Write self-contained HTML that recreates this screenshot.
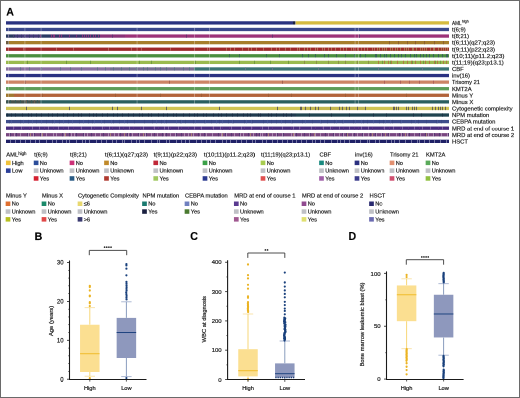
<!DOCTYPE html>
<html><head><meta charset="utf-8"><style>
html,body{margin:0;padding:0;background:#fff;}
body{width:520px;height:398px;overflow:hidden;font-family:"Liberation Sans",sans-serif;}
svg{display:block;transform:scale(0.5);transform-origin:0 0;will-change:transform;}
</style></head><body>
<svg width="1040" height="796" viewBox="0 0 520 398">
<style>text{stroke:#222;stroke-width:0.2px;}</style>
<defs><filter id="soft" x="0" y="0" width="520" height="398" filterUnits="userSpaceOnUse"><feGaussianBlur stdDeviation="0"/></filter></defs>
<g>
<rect x="0" y="0" width="520" height="398" fill="#fff"/>
<text x="6.2" y="15.6" font-size="10.6" font-weight="bold" font-family="Liberation Sans, sans-serif" fill="#000">A</text>
<rect x="6" y="21.25" width="287.00" height="3.3" fill="#2a3380"/>
<rect x="293" y="21.25" width="2.00" height="3.3" fill="#1c2240"/>
<rect x="295" y="21.25" width="1.00" height="3.3" fill="#a09a80"/>
<rect x="296" y="21.25" width="153.00" height="3.3" fill="#d5bb40"/>
<rect x="6" y="27.83" width="443.00" height="3.3" fill="#3b498c"/>
<rect x="8.0" y="27.83" width="1" height="3.3" fill="#fff" fill-opacity="0.3"/>
<rect x="24.4" y="27.83" width="1" height="3.3" fill="#fff" fill-opacity="0.3"/>
<rect x="40.6" y="27.83" width="1" height="3.3" fill="#fff" fill-opacity="0.3"/>
<rect x="136.6" y="27.83" width="1" height="3.3" fill="#fff" fill-opacity="0.3"/>
<rect x="194" y="27.83" width="1" height="3.3" fill="#fff" fill-opacity="0.3"/>
<rect x="209" y="27.83" width="1" height="3.3" fill="#fff" fill-opacity="0.3"/>
<rect x="354.6" y="27.83" width="1" height="3.3" fill="#fff" fill-opacity="0.3"/>
<rect x="358" y="27.83" width="1" height="3.3" fill="#fff" fill-opacity="0.3"/>
<rect x="6" y="34.41" width="9.00" height="3.3" fill="#2a3a60"/>
<rect x="8" y="34.41" width="1" height="3.3" fill="#473e73"/>
<rect x="13" y="34.41" width="1" height="3.3" fill="#473e73"/>
<rect x="15" y="34.41" width="25.00" height="3.3" fill="#45387a"/>
<rect x="17" y="34.41" width="1" height="3.3" fill="#35396a"/>
<rect x="21" y="34.41" width="1" height="3.3" fill="#35396a"/>
<rect x="24" y="34.41" width="1" height="3.3" fill="#35396a"/>
<rect x="29" y="34.41" width="1" height="3.3" fill="#35396a"/>
<rect x="33" y="34.41" width="1" height="3.3" fill="#35396a"/>
<rect x="38" y="34.41" width="1" height="3.3" fill="#35396a"/>
<rect x="40" y="34.41" width="10.00" height="3.3" fill="#2a3a64"/>
<rect x="40" y="34.41" width="1" height="3.3" fill="#713475"/>
<rect x="50" y="34.41" width="12.00" height="3.3" fill="#363468"/>
<rect x="51" y="34.41" width="1" height="3.3" fill="#86337a"/>
<rect x="53" y="34.41" width="1" height="3.3" fill="#86337a"/>
<rect x="54" y="34.41" width="1" height="3.3" fill="#86337a"/>
<rect x="59" y="34.41" width="1" height="3.3" fill="#86337a"/>
<rect x="61" y="34.41" width="1" height="3.3" fill="#86337a"/>
<rect x="62" y="34.41" width="20.00" height="3.3" fill="#36346a"/>
<rect x="69" y="34.41" width="1" height="3.3" fill="#7a3378"/>
<rect x="76" y="34.41" width="1" height="3.3" fill="#7a3378"/>
<rect x="82" y="34.41" width="18.00" height="3.3" fill="#363468"/>
<rect x="82" y="34.41" width="1" height="3.3" fill="#86337a"/>
<rect x="84" y="34.41" width="1" height="3.3" fill="#86337a"/>
<rect x="86" y="34.41" width="1" height="3.3" fill="#86337a"/>
<rect x="88" y="34.41" width="1" height="3.3" fill="#86337a"/>
<rect x="90" y="34.41" width="1" height="3.3" fill="#86337a"/>
<rect x="93" y="34.41" width="1" height="3.3" fill="#86337a"/>
<rect x="95" y="34.41" width="1" height="3.3" fill="#86337a"/>
<rect x="98" y="34.41" width="1" height="3.3" fill="#86337a"/>
<rect x="100" y="34.41" width="25.00" height="3.3" fill="#8a3278"/>
<rect x="112" y="34.41" width="1" height="3.3" fill="#603370"/>
<rect x="125" y="34.41" width="324.00" height="3.3" fill="#9c3279"/>
<rect x="186" y="34.41" width="1" height="3.3" fill="#693370"/>
<rect x="272" y="34.41" width="1" height="3.3" fill="#693370"/>
<rect x="359" y="34.41" width="1" height="3.3" fill="#693370"/>
<rect x="8.0" y="34.41" width="1" height="3.3" fill="#fff" fill-opacity="0.3"/>
<rect x="24.4" y="34.41" width="1" height="3.3" fill="#fff" fill-opacity="0.3"/>
<rect x="40.6" y="34.41" width="1" height="3.3" fill="#fff" fill-opacity="0.3"/>
<rect x="136.6" y="34.41" width="1" height="3.3" fill="#fff" fill-opacity="0.3"/>
<rect x="194" y="34.41" width="1" height="3.3" fill="#fff" fill-opacity="0.3"/>
<rect x="209" y="34.41" width="1" height="3.3" fill="#fff" fill-opacity="0.3"/>
<rect x="354.6" y="34.41" width="1" height="3.3" fill="#fff" fill-opacity="0.3"/>
<rect x="358" y="34.41" width="1" height="3.3" fill="#fff" fill-opacity="0.3"/>
<rect x="6" y="40.99" width="3.00" height="3.3" fill="#6a5a40"/>
<rect x="9" y="40.99" width="367.00" height="3.3" fill="#a67e2c"/>
<rect x="376" y="40.99" width="73.00" height="3.3" fill="#a67e2c"/>
<rect x="389" y="40.99" width="1" height="3.3" fill="#8c5f2e"/>
<rect x="398" y="40.99" width="1" height="3.3" fill="#8c5f2e"/>
<rect x="407" y="40.99" width="1" height="3.3" fill="#8c5f2e"/>
<rect x="415" y="40.99" width="1" height="3.3" fill="#8c5f2e"/>
<rect x="424" y="40.99" width="1" height="3.3" fill="#8c5f2e"/>
<rect x="434" y="40.99" width="1" height="3.3" fill="#8c5f2e"/>
<rect x="443" y="40.99" width="1" height="3.3" fill="#8c5f2e"/>
<rect x="8.0" y="40.99" width="1" height="3.3" fill="#fff" fill-opacity="0.3"/>
<rect x="24.4" y="40.99" width="1" height="3.3" fill="#fff" fill-opacity="0.3"/>
<rect x="40.6" y="40.99" width="1" height="3.3" fill="#fff" fill-opacity="0.3"/>
<rect x="136.6" y="40.99" width="1" height="3.3" fill="#fff" fill-opacity="0.3"/>
<rect x="194" y="40.99" width="1" height="3.3" fill="#fff" fill-opacity="0.3"/>
<rect x="209" y="40.99" width="1" height="3.3" fill="#fff" fill-opacity="0.3"/>
<rect x="354.6" y="40.99" width="1" height="3.3" fill="#fff" fill-opacity="0.3"/>
<rect x="358" y="40.99" width="1" height="3.3" fill="#fff" fill-opacity="0.3"/>
<rect x="6" y="47.57" width="216.00" height="3.3" fill="#9e282a"/>
<rect x="23" y="47.57" width="1" height="3.3" fill="#b5635e"/>
<rect x="56" y="47.57" width="1" height="3.3" fill="#b5635e"/>
<rect x="73" y="47.57" width="1" height="3.3" fill="#b5635e"/>
<rect x="108" y="47.57" width="1" height="3.3" fill="#b5635e"/>
<rect x="131" y="47.57" width="1" height="3.3" fill="#b5635e"/>
<rect x="141" y="47.57" width="1" height="3.3" fill="#b5635e"/>
<rect x="170" y="47.57" width="1" height="3.3" fill="#b5635e"/>
<rect x="207" y="47.57" width="1" height="3.3" fill="#b5635e"/>
<rect x="222" y="47.57" width="74.00" height="3.3" fill="#9e282a"/>
<rect x="226" y="47.57" width="1" height="3.3" fill="#b56859"/>
<rect x="230" y="47.57" width="1" height="3.3" fill="#b56859"/>
<rect x="234" y="47.57" width="1" height="3.3" fill="#b56859"/>
<rect x="242" y="47.57" width="1" height="3.3" fill="#b56859"/>
<rect x="248" y="47.57" width="1" height="3.3" fill="#b56859"/>
<rect x="251" y="47.57" width="1" height="3.3" fill="#b56859"/>
<rect x="256" y="47.57" width="1" height="3.3" fill="#b56859"/>
<rect x="263" y="47.57" width="1" height="3.3" fill="#b56859"/>
<rect x="271" y="47.57" width="1" height="3.3" fill="#b56859"/>
<rect x="276" y="47.57" width="1" height="3.3" fill="#b56859"/>
<rect x="279" y="47.57" width="1" height="3.3" fill="#b56859"/>
<rect x="285" y="47.57" width="1" height="3.3" fill="#b56859"/>
<rect x="290" y="47.57" width="1" height="3.3" fill="#b56859"/>
<rect x="296" y="47.57" width="80.00" height="3.3" fill="#9e282a"/>
<rect x="297" y="47.57" width="1" height="3.3" fill="#b17058"/>
<rect x="299" y="47.57" width="1" height="3.3" fill="#b17058"/>
<rect x="304" y="47.57" width="1" height="3.3" fill="#b17058"/>
<rect x="307" y="47.57" width="1" height="3.3" fill="#b17058"/>
<rect x="310" y="47.57" width="1" height="3.3" fill="#b17058"/>
<rect x="315" y="47.57" width="1" height="3.3" fill="#b17058"/>
<rect x="317" y="47.57" width="1" height="3.3" fill="#b17058"/>
<rect x="322" y="47.57" width="1" height="3.3" fill="#b17058"/>
<rect x="324" y="47.57" width="1" height="3.3" fill="#b17058"/>
<rect x="328" y="47.57" width="1" height="3.3" fill="#b17058"/>
<rect x="331" y="47.57" width="1" height="3.3" fill="#b17058"/>
<rect x="335" y="47.57" width="1" height="3.3" fill="#b17058"/>
<rect x="340" y="47.57" width="1" height="3.3" fill="#b17058"/>
<rect x="343" y="47.57" width="1" height="3.3" fill="#b17058"/>
<rect x="346" y="47.57" width="1" height="3.3" fill="#b17058"/>
<rect x="351" y="47.57" width="1" height="3.3" fill="#b17058"/>
<rect x="353" y="47.57" width="1" height="3.3" fill="#b17058"/>
<rect x="357" y="47.57" width="1" height="3.3" fill="#b17058"/>
<rect x="361" y="47.57" width="1" height="3.3" fill="#b17058"/>
<rect x="364" y="47.57" width="1" height="3.3" fill="#b17058"/>
<rect x="367" y="47.57" width="1" height="3.3" fill="#b17058"/>
<rect x="372" y="47.57" width="1" height="3.3" fill="#b17058"/>
<rect x="374" y="47.57" width="1" height="3.3" fill="#b17058"/>
<rect x="376" y="47.57" width="73.00" height="3.3" fill="#9e2e2a"/>
<rect x="377" y="47.57" width="1" height="3.3" fill="#ab7b51"/>
<rect x="379" y="47.57" width="1" height="3.3" fill="#ab7b51"/>
<rect x="382" y="47.57" width="1" height="3.3" fill="#ab7b51"/>
<rect x="384" y="47.57" width="1" height="3.3" fill="#ab7b51"/>
<rect x="386" y="47.57" width="1" height="3.3" fill="#ab7b51"/>
<rect x="390" y="47.57" width="1" height="3.3" fill="#ab7b51"/>
<rect x="392" y="47.57" width="1" height="3.3" fill="#ab7b51"/>
<rect x="395" y="47.57" width="1" height="3.3" fill="#ab7b51"/>
<rect x="397" y="47.57" width="1" height="3.3" fill="#ab7b51"/>
<rect x="400" y="47.57" width="1" height="3.3" fill="#ab7b51"/>
<rect x="404" y="47.57" width="1" height="3.3" fill="#ab7b51"/>
<rect x="406" y="47.57" width="1" height="3.3" fill="#ab7b51"/>
<rect x="408" y="47.57" width="1" height="3.3" fill="#ab7b51"/>
<rect x="412" y="47.57" width="1" height="3.3" fill="#ab7b51"/>
<rect x="413" y="47.57" width="1" height="3.3" fill="#ab7b51"/>
<rect x="416" y="47.57" width="1" height="3.3" fill="#ab7b51"/>
<rect x="420" y="47.57" width="1" height="3.3" fill="#ab7b51"/>
<rect x="422" y="47.57" width="1" height="3.3" fill="#ab7b51"/>
<rect x="424" y="47.57" width="1" height="3.3" fill="#ab7b51"/>
<rect x="426" y="47.57" width="1" height="3.3" fill="#ab7b51"/>
<rect x="430" y="47.57" width="1" height="3.3" fill="#ab7b51"/>
<rect x="433" y="47.57" width="1" height="3.3" fill="#ab7b51"/>
<rect x="434" y="47.57" width="1" height="3.3" fill="#ab7b51"/>
<rect x="438" y="47.57" width="1" height="3.3" fill="#ab7b51"/>
<rect x="441" y="47.57" width="1" height="3.3" fill="#ab7b51"/>
<rect x="443" y="47.57" width="1" height="3.3" fill="#ab7b51"/>
<rect x="445" y="47.57" width="1" height="3.3" fill="#ab7b51"/>
<rect x="447" y="47.57" width="1" height="3.3" fill="#ab7b51"/>
<rect x="8.0" y="47.57" width="1" height="3.3" fill="#fff" fill-opacity="0.3"/>
<rect x="24.4" y="47.57" width="1" height="3.3" fill="#fff" fill-opacity="0.3"/>
<rect x="40.6" y="47.57" width="1" height="3.3" fill="#fff" fill-opacity="0.3"/>
<rect x="136.6" y="47.57" width="1" height="3.3" fill="#fff" fill-opacity="0.3"/>
<rect x="194" y="47.57" width="1" height="3.3" fill="#fff" fill-opacity="0.3"/>
<rect x="209" y="47.57" width="1" height="3.3" fill="#fff" fill-opacity="0.3"/>
<rect x="354.6" y="47.57" width="1" height="3.3" fill="#fff" fill-opacity="0.3"/>
<rect x="358" y="47.57" width="1" height="3.3" fill="#fff" fill-opacity="0.3"/>
<rect x="6" y="54.15" width="216.00" height="3.3" fill="#4a8e3e"/>
<rect x="222" y="54.15" width="74.00" height="3.3" fill="#4a8e3e"/>
<rect x="229" y="54.15" width="1" height="3.3" fill="#3a6c4f"/>
<rect x="239" y="54.15" width="1" height="3.3" fill="#3a6c4f"/>
<rect x="266" y="54.15" width="1" height="3.3" fill="#3a6c4f"/>
<rect x="279" y="54.15" width="1" height="3.3" fill="#3a6c4f"/>
<rect x="296" y="54.15" width="80.00" height="3.3" fill="#4a8e3e"/>
<rect x="302" y="54.15" width="1" height="3.3" fill="#3a6457"/>
<rect x="308" y="54.15" width="1" height="3.3" fill="#3a6457"/>
<rect x="315" y="54.15" width="1" height="3.3" fill="#3a6457"/>
<rect x="324" y="54.15" width="1" height="3.3" fill="#3a6457"/>
<rect x="328" y="54.15" width="1" height="3.3" fill="#3a6457"/>
<rect x="336" y="54.15" width="1" height="3.3" fill="#3a6457"/>
<rect x="345" y="54.15" width="1" height="3.3" fill="#3a6457"/>
<rect x="354" y="54.15" width="1" height="3.3" fill="#3a6457"/>
<rect x="360" y="54.15" width="1" height="3.3" fill="#3a6457"/>
<rect x="365" y="54.15" width="1" height="3.3" fill="#3a6457"/>
<rect x="375" y="54.15" width="1" height="3.3" fill="#3a6457"/>
<rect x="376" y="54.15" width="73.00" height="3.3" fill="#4a8e3e"/>
<rect x="376" y="54.15" width="1" height="3.3" fill="#38605a"/>
<rect x="380" y="54.15" width="1" height="3.3" fill="#38605a"/>
<rect x="384" y="54.15" width="1" height="3.3" fill="#38605a"/>
<rect x="386" y="54.15" width="1" height="3.3" fill="#38605a"/>
<rect x="390" y="54.15" width="1" height="3.3" fill="#38605a"/>
<rect x="394" y="54.15" width="1" height="3.3" fill="#38605a"/>
<rect x="398" y="54.15" width="1" height="3.3" fill="#38605a"/>
<rect x="401" y="54.15" width="1" height="3.3" fill="#38605a"/>
<rect x="405" y="54.15" width="1" height="3.3" fill="#38605a"/>
<rect x="410" y="54.15" width="1" height="3.3" fill="#38605a"/>
<rect x="414" y="54.15" width="1" height="3.3" fill="#38605a"/>
<rect x="416" y="54.15" width="1" height="3.3" fill="#38605a"/>
<rect x="420" y="54.15" width="1" height="3.3" fill="#38605a"/>
<rect x="423" y="54.15" width="1" height="3.3" fill="#38605a"/>
<rect x="426" y="54.15" width="1" height="3.3" fill="#38605a"/>
<rect x="429" y="54.15" width="1" height="3.3" fill="#38605a"/>
<rect x="433" y="54.15" width="1" height="3.3" fill="#38605a"/>
<rect x="438" y="54.15" width="1" height="3.3" fill="#38605a"/>
<rect x="442" y="54.15" width="1" height="3.3" fill="#38605a"/>
<rect x="446" y="54.15" width="1" height="3.3" fill="#38605a"/>
<rect x="447" y="54.15" width="1" height="3.3" fill="#38605a"/>
<rect x="8.0" y="54.15" width="1" height="3.3" fill="#fff" fill-opacity="0.3"/>
<rect x="24.4" y="54.15" width="1" height="3.3" fill="#fff" fill-opacity="0.3"/>
<rect x="40.6" y="54.15" width="1" height="3.3" fill="#fff" fill-opacity="0.3"/>
<rect x="136.6" y="54.15" width="1" height="3.3" fill="#fff" fill-opacity="0.3"/>
<rect x="194" y="54.15" width="1" height="3.3" fill="#fff" fill-opacity="0.3"/>
<rect x="209" y="54.15" width="1" height="3.3" fill="#fff" fill-opacity="0.3"/>
<rect x="354.6" y="54.15" width="1" height="3.3" fill="#fff" fill-opacity="0.3"/>
<rect x="358" y="54.15" width="1" height="3.3" fill="#fff" fill-opacity="0.3"/>
<rect x="6" y="60.73" width="216.00" height="3.3" fill="#9aba4e"/>
<rect x="27" y="60.73" width="1" height="3.3" fill="#729a3f"/>
<rect x="66" y="60.73" width="1" height="3.3" fill="#729a3f"/>
<rect x="90" y="60.73" width="1" height="3.3" fill="#729a3f"/>
<rect x="139" y="60.73" width="1" height="3.3" fill="#729a3f"/>
<rect x="151" y="60.73" width="1" height="3.3" fill="#729a3f"/>
<rect x="195" y="60.73" width="1" height="3.3" fill="#729a3f"/>
<rect x="222" y="60.73" width="74.00" height="3.3" fill="#9aba4e"/>
<rect x="239" y="60.73" width="1" height="3.3" fill="#729a3f"/>
<rect x="254" y="60.73" width="1" height="3.3" fill="#729a3f"/>
<rect x="270" y="60.73" width="1" height="3.3" fill="#729a3f"/>
<rect x="288" y="60.73" width="1" height="3.3" fill="#729a3f"/>
<rect x="296" y="60.73" width="80.00" height="3.3" fill="#9aba4e"/>
<rect x="304" y="60.73" width="1" height="3.3" fill="#8a9247"/>
<rect x="316" y="60.73" width="1" height="3.3" fill="#8a9247"/>
<rect x="328" y="60.73" width="1" height="3.3" fill="#8a9247"/>
<rect x="338" y="60.73" width="1" height="3.3" fill="#8a9247"/>
<rect x="345" y="60.73" width="1" height="3.3" fill="#8a9247"/>
<rect x="357" y="60.73" width="1" height="3.3" fill="#8a9247"/>
<rect x="368" y="60.73" width="1" height="3.3" fill="#8a9247"/>
<rect x="376" y="60.73" width="73.00" height="3.3" fill="#9aba4e"/>
<rect x="378" y="60.73" width="1" height="3.3" fill="#af7b42"/>
<rect x="384" y="60.73" width="1" height="3.3" fill="#af7b42"/>
<rect x="388" y="60.73" width="1" height="3.3" fill="#af7b42"/>
<rect x="391" y="60.73" width="1" height="3.3" fill="#af7b42"/>
<rect x="397" y="60.73" width="1" height="3.3" fill="#af7b42"/>
<rect x="403" y="60.73" width="1" height="3.3" fill="#af7b42"/>
<rect x="407" y="60.73" width="1" height="3.3" fill="#af7b42"/>
<rect x="411" y="60.73" width="1" height="3.3" fill="#af7b42"/>
<rect x="415" y="60.73" width="1" height="3.3" fill="#af7b42"/>
<rect x="420" y="60.73" width="1" height="3.3" fill="#af7b42"/>
<rect x="425" y="60.73" width="1" height="3.3" fill="#af7b42"/>
<rect x="429" y="60.73" width="1" height="3.3" fill="#af7b42"/>
<rect x="434" y="60.73" width="1" height="3.3" fill="#af7b42"/>
<rect x="437" y="60.73" width="1" height="3.3" fill="#af7b42"/>
<rect x="443" y="60.73" width="1" height="3.3" fill="#af7b42"/>
<rect x="446" y="60.73" width="1" height="3.3" fill="#af7b42"/>
<rect x="382" y="60.73" width="1" height="3.3" fill="#729a3f"/>
<rect x="390" y="60.73" width="1" height="3.3" fill="#729a3f"/>
<rect x="412" y="60.73" width="1" height="3.3" fill="#729a3f"/>
<rect x="423" y="60.73" width="1" height="3.3" fill="#729a3f"/>
<rect x="435" y="60.73" width="1" height="3.3" fill="#729a3f"/>
<rect x="440" y="60.73" width="1" height="3.3" fill="#729a3f"/>
<rect x="8.0" y="60.73" width="1" height="3.3" fill="#fff" fill-opacity="0.3"/>
<rect x="24.4" y="60.73" width="1" height="3.3" fill="#fff" fill-opacity="0.3"/>
<rect x="40.6" y="60.73" width="1" height="3.3" fill="#fff" fill-opacity="0.3"/>
<rect x="136.6" y="60.73" width="1" height="3.3" fill="#fff" fill-opacity="0.3"/>
<rect x="194" y="60.73" width="1" height="3.3" fill="#fff" fill-opacity="0.3"/>
<rect x="209" y="60.73" width="1" height="3.3" fill="#fff" fill-opacity="0.3"/>
<rect x="354.6" y="60.73" width="1" height="3.3" fill="#fff" fill-opacity="0.3"/>
<rect x="358" y="60.73" width="1" height="3.3" fill="#fff" fill-opacity="0.3"/>
<rect x="6" y="67.31" width="104.00" height="3.3" fill="#8870a0"/>
<rect x="20" y="67.31" width="1" height="3.3" fill="#61728a"/>
<rect x="29" y="67.31" width="1" height="3.3" fill="#61728a"/>
<rect x="41" y="67.31" width="1" height="3.3" fill="#61728a"/>
<rect x="60" y="67.31" width="1" height="3.3" fill="#61728a"/>
<rect x="70" y="67.31" width="1" height="3.3" fill="#61728a"/>
<rect x="81" y="67.31" width="1" height="3.3" fill="#61728a"/>
<rect x="97" y="67.31" width="1" height="3.3" fill="#61728a"/>
<rect x="105" y="67.31" width="1" height="3.3" fill="#61728a"/>
<rect x="110" y="67.31" width="84.00" height="3.3" fill="#766e92"/>
<rect x="113" y="67.31" width="1" height="3.3" fill="#587183"/>
<rect x="121" y="67.31" width="1" height="3.3" fill="#587183"/>
<rect x="129" y="67.31" width="1" height="3.3" fill="#587183"/>
<rect x="136" y="67.31" width="1" height="3.3" fill="#587183"/>
<rect x="143" y="67.31" width="1" height="3.3" fill="#587183"/>
<rect x="147" y="67.31" width="1" height="3.3" fill="#587183"/>
<rect x="155" y="67.31" width="1" height="3.3" fill="#587183"/>
<rect x="160" y="67.31" width="1" height="3.3" fill="#587183"/>
<rect x="166" y="67.31" width="1" height="3.3" fill="#587183"/>
<rect x="174" y="67.31" width="1" height="3.3" fill="#587183"/>
<rect x="183" y="67.31" width="1" height="3.3" fill="#587183"/>
<rect x="189" y="67.31" width="1" height="3.3" fill="#587183"/>
<rect x="194" y="67.31" width="255.00" height="3.3" fill="#3a7274"/>
<rect x="245" y="67.31" width="1" height="3.3" fill="#61718a"/>
<rect x="272" y="67.31" width="1" height="3.3" fill="#61718a"/>
<rect x="318" y="67.31" width="1" height="3.3" fill="#61718a"/>
<rect x="378" y="67.31" width="1" height="3.3" fill="#61718a"/>
<rect x="422" y="67.31" width="1" height="3.3" fill="#61718a"/>
<rect x="8.0" y="67.31" width="1" height="3.3" fill="#fff" fill-opacity="0.3"/>
<rect x="24.4" y="67.31" width="1" height="3.3" fill="#fff" fill-opacity="0.3"/>
<rect x="40.6" y="67.31" width="1" height="3.3" fill="#fff" fill-opacity="0.3"/>
<rect x="136.6" y="67.31" width="1" height="3.3" fill="#fff" fill-opacity="0.3"/>
<rect x="194" y="67.31" width="1" height="3.3" fill="#fff" fill-opacity="0.3"/>
<rect x="209" y="67.31" width="1" height="3.3" fill="#fff" fill-opacity="0.3"/>
<rect x="354.6" y="67.31" width="1" height="3.3" fill="#fff" fill-opacity="0.3"/>
<rect x="358" y="67.31" width="1" height="3.3" fill="#fff" fill-opacity="0.3"/>
<rect x="6" y="73.89" width="443.00" height="3.3" fill="#2b3282"/>
<rect x="8.0" y="73.89" width="1" height="3.3" fill="#fff" fill-opacity="0.3"/>
<rect x="24.4" y="73.89" width="1" height="3.3" fill="#fff" fill-opacity="0.3"/>
<rect x="40.6" y="73.89" width="1" height="3.3" fill="#fff" fill-opacity="0.3"/>
<rect x="136.6" y="73.89" width="1" height="3.3" fill="#fff" fill-opacity="0.3"/>
<rect x="194" y="73.89" width="1" height="3.3" fill="#fff" fill-opacity="0.3"/>
<rect x="209" y="73.89" width="1" height="3.3" fill="#fff" fill-opacity="0.3"/>
<rect x="354.6" y="73.89" width="1" height="3.3" fill="#fff" fill-opacity="0.3"/>
<rect x="358" y="73.89" width="1" height="3.3" fill="#fff" fill-opacity="0.3"/>
<rect x="6" y="80.47" width="370.00" height="3.3" fill="#cc8466"/>
<rect x="25" y="80.47" width="1" height="3.3" fill="#a4614f"/>
<rect x="169" y="80.47" width="1" height="3.3" fill="#a4614f"/>
<rect x="282" y="80.47" width="1" height="3.3" fill="#a4614f"/>
<rect x="376" y="80.47" width="73.00" height="3.3" fill="#cc8466"/>
<rect x="384" y="80.47" width="1" height="3.3" fill="#ae6159"/>
<rect x="400" y="80.47" width="1" height="3.3" fill="#ae6159"/>
<rect x="409" y="80.47" width="1" height="3.3" fill="#ae6159"/>
<rect x="419" y="80.47" width="1" height="3.3" fill="#ae6159"/>
<rect x="433" y="80.47" width="1" height="3.3" fill="#ae6159"/>
<rect x="8.0" y="80.47" width="1" height="3.3" fill="#fff" fill-opacity="0.3"/>
<rect x="24.4" y="80.47" width="1" height="3.3" fill="#fff" fill-opacity="0.3"/>
<rect x="40.6" y="80.47" width="1" height="3.3" fill="#fff" fill-opacity="0.3"/>
<rect x="136.6" y="80.47" width="1" height="3.3" fill="#fff" fill-opacity="0.3"/>
<rect x="194" y="80.47" width="1" height="3.3" fill="#fff" fill-opacity="0.3"/>
<rect x="209" y="80.47" width="1" height="3.3" fill="#fff" fill-opacity="0.3"/>
<rect x="354.6" y="80.47" width="1" height="3.3" fill="#fff" fill-opacity="0.3"/>
<rect x="358" y="80.47" width="1" height="3.3" fill="#fff" fill-opacity="0.3"/>
<rect x="6" y="87.05" width="443.00" height="3.3" fill="#5e9c58"/>
<rect x="8.0" y="87.05" width="1" height="3.3" fill="#fff" fill-opacity="0.3"/>
<rect x="24.4" y="87.05" width="1" height="3.3" fill="#fff" fill-opacity="0.3"/>
<rect x="40.6" y="87.05" width="1" height="3.3" fill="#fff" fill-opacity="0.3"/>
<rect x="136.6" y="87.05" width="1" height="3.3" fill="#fff" fill-opacity="0.3"/>
<rect x="194" y="87.05" width="1" height="3.3" fill="#fff" fill-opacity="0.3"/>
<rect x="209" y="87.05" width="1" height="3.3" fill="#fff" fill-opacity="0.3"/>
<rect x="354.6" y="87.05" width="1" height="3.3" fill="#fff" fill-opacity="0.3"/>
<rect x="358" y="87.05" width="1" height="3.3" fill="#fff" fill-opacity="0.3"/>
<rect x="6" y="93.63" width="8.00" height="3.3" fill="#a07830"/>
<rect x="14" y="93.63" width="435.00" height="3.3" fill="#b2633a"/>
<rect x="42" y="93.63" width="1" height="3.3" fill="#9e5e35"/>
<rect x="115" y="93.63" width="1" height="3.3" fill="#9e5e35"/>
<rect x="160" y="93.63" width="1" height="3.3" fill="#9e5e35"/>
<rect x="201" y="93.63" width="1" height="3.3" fill="#9e5e35"/>
<rect x="268" y="93.63" width="1" height="3.3" fill="#9e5e35"/>
<rect x="291" y="93.63" width="1" height="3.3" fill="#9e5e35"/>
<rect x="345" y="93.63" width="1" height="3.3" fill="#9e5e35"/>
<rect x="406" y="93.63" width="1" height="3.3" fill="#9e5e35"/>
<rect x="8.0" y="93.63" width="1" height="3.3" fill="#fff" fill-opacity="0.3"/>
<rect x="24.4" y="93.63" width="1" height="3.3" fill="#fff" fill-opacity="0.3"/>
<rect x="40.6" y="93.63" width="1" height="3.3" fill="#fff" fill-opacity="0.3"/>
<rect x="136.6" y="93.63" width="1" height="3.3" fill="#fff" fill-opacity="0.3"/>
<rect x="194" y="93.63" width="1" height="3.3" fill="#fff" fill-opacity="0.3"/>
<rect x="209" y="93.63" width="1" height="3.3" fill="#fff" fill-opacity="0.3"/>
<rect x="354.6" y="93.63" width="1" height="3.3" fill="#fff" fill-opacity="0.3"/>
<rect x="358" y="93.63" width="1" height="3.3" fill="#fff" fill-opacity="0.3"/>
<rect x="6" y="100.21" width="34.00" height="3.3" fill="#44524c"/>
<rect x="7" y="100.21" width="1" height="3.3" fill="#345957"/>
<rect x="10" y="100.21" width="1" height="3.3" fill="#345957"/>
<rect x="15" y="100.21" width="1" height="3.3" fill="#345957"/>
<rect x="20" y="100.21" width="1" height="3.3" fill="#345957"/>
<rect x="27" y="100.21" width="1" height="3.3" fill="#345957"/>
<rect x="31" y="100.21" width="1" height="3.3" fill="#345957"/>
<rect x="37" y="100.21" width="1" height="3.3" fill="#345957"/>
<rect x="26" y="100.21" width="1" height="3.3" fill="#645a4e"/>
<rect x="34" y="100.21" width="1" height="3.3" fill="#645a4e"/>
<rect x="40" y="100.21" width="409.00" height="3.3" fill="#2a5e5f"/>
<rect x="8.0" y="100.21" width="1" height="3.3" fill="#fff" fill-opacity="0.3"/>
<rect x="24.4" y="100.21" width="1" height="3.3" fill="#fff" fill-opacity="0.3"/>
<rect x="40.6" y="100.21" width="1" height="3.3" fill="#fff" fill-opacity="0.3"/>
<rect x="136.6" y="100.21" width="1" height="3.3" fill="#fff" fill-opacity="0.3"/>
<rect x="194" y="100.21" width="1" height="3.3" fill="#fff" fill-opacity="0.3"/>
<rect x="209" y="100.21" width="1" height="3.3" fill="#fff" fill-opacity="0.3"/>
<rect x="354.6" y="100.21" width="1" height="3.3" fill="#fff" fill-opacity="0.3"/>
<rect x="358" y="100.21" width="1" height="3.3" fill="#fff" fill-opacity="0.3"/>
<rect x="6" y="106.79" width="298.00" height="3.3" fill="#cfc454"/>
<rect x="304" y="106.79" width="61.00" height="3.3" fill="#c4b850"/>
<rect x="365" y="106.79" width="84.00" height="3.3" fill="#cfc454"/>
<rect x="26" y="106.79" width="1" height="3.3" fill="#676357"/>
<rect x="69" y="106.79" width="1" height="3.3" fill="#676357"/>
<rect x="112" y="106.79" width="1" height="3.3" fill="#676357"/>
<rect x="117" y="106.79" width="1" height="3.3" fill="#676357"/>
<rect x="141" y="106.79" width="1" height="3.3" fill="#676357"/>
<rect x="166" y="106.79" width="1" height="3.3" fill="#676357"/>
<rect x="219" y="106.79" width="1" height="3.3" fill="#676357"/>
<rect x="277" y="106.79" width="1" height="3.3" fill="#676357"/>
<rect x="300" y="106.79" width="1" height="3.3" fill="#676357"/>
<rect x="301" y="106.79" width="1" height="3.3" fill="#676357"/>
<rect x="305" y="106.79" width="1" height="3.3" fill="#676357"/>
<rect x="310" y="106.79" width="1" height="3.3" fill="#676357"/>
<rect x="315" y="106.79" width="1" height="3.3" fill="#676357"/>
<rect x="318" y="106.79" width="1" height="3.3" fill="#676357"/>
<rect x="330" y="106.79" width="1" height="3.3" fill="#676357"/>
<rect x="339" y="106.79" width="1" height="3.3" fill="#676357"/>
<rect x="342" y="106.79" width="1" height="3.3" fill="#676357"/>
<rect x="346" y="106.79" width="1" height="3.3" fill="#676357"/>
<rect x="349" y="106.79" width="1" height="3.3" fill="#676357"/>
<rect x="357" y="106.79" width="1" height="3.3" fill="#676357"/>
<rect x="365" y="106.79" width="1" height="3.3" fill="#676357"/>
<rect x="393" y="106.79" width="1" height="3.3" fill="#676357"/>
<rect x="394" y="106.79" width="1" height="3.3" fill="#676357"/>
<rect x="396" y="106.79" width="1" height="3.3" fill="#676357"/>
<rect x="398" y="106.79" width="1" height="3.3" fill="#676357"/>
<rect x="406" y="106.79" width="1" height="3.3" fill="#676357"/>
<rect x="408" y="106.79" width="1" height="3.3" fill="#676357"/>
<rect x="412" y="106.79" width="1" height="3.3" fill="#676357"/>
<rect x="414" y="106.79" width="1" height="3.3" fill="#676357"/>
<rect x="416" y="106.79" width="1" height="3.3" fill="#676357"/>
<rect x="432" y="106.79" width="1" height="3.3" fill="#676357"/>
<rect x="435" y="106.79" width="1" height="3.3" fill="#676357"/>
<rect x="438" y="106.79" width="1" height="3.3" fill="#676357"/>
<rect x="440" y="106.79" width="1" height="3.3" fill="#676357"/>
<rect x="442" y="106.79" width="1" height="3.3" fill="#676357"/>
<rect x="445" y="106.79" width="1" height="3.3" fill="#676357"/>
<rect x="6" y="113.37" width="290.00" height="3.3" fill="#1f3a4e"/>
<rect x="7" y="113.37" width="1" height="3.3" fill="#1a2d44"/>
<rect x="11" y="113.37" width="1" height="3.3" fill="#1a2d44"/>
<rect x="15" y="113.37" width="1" height="3.3" fill="#1a2d44"/>
<rect x="22" y="113.37" width="1" height="3.3" fill="#1a2d44"/>
<rect x="28" y="113.37" width="1" height="3.3" fill="#1a2d44"/>
<rect x="31" y="113.37" width="1" height="3.3" fill="#1a2d44"/>
<rect x="36" y="113.37" width="1" height="3.3" fill="#1a2d44"/>
<rect x="41" y="113.37" width="1" height="3.3" fill="#1a2d44"/>
<rect x="48" y="113.37" width="1" height="3.3" fill="#1a2d44"/>
<rect x="52" y="113.37" width="1" height="3.3" fill="#1a2d44"/>
<rect x="57" y="113.37" width="1" height="3.3" fill="#1a2d44"/>
<rect x="63" y="113.37" width="1" height="3.3" fill="#1a2d44"/>
<rect x="67" y="113.37" width="1" height="3.3" fill="#1a2d44"/>
<rect x="73" y="113.37" width="1" height="3.3" fill="#1a2d44"/>
<rect x="78" y="113.37" width="1" height="3.3" fill="#1a2d44"/>
<rect x="81" y="113.37" width="1" height="3.3" fill="#1a2d44"/>
<rect x="89" y="113.37" width="1" height="3.3" fill="#1a2d44"/>
<rect x="93" y="113.37" width="1" height="3.3" fill="#1a2d44"/>
<rect x="96" y="113.37" width="1" height="3.3" fill="#1a2d44"/>
<rect x="102" y="113.37" width="1" height="3.3" fill="#1a2d44"/>
<rect x="107" y="113.37" width="1" height="3.3" fill="#1a2d44"/>
<rect x="113" y="113.37" width="1" height="3.3" fill="#1a2d44"/>
<rect x="117" y="113.37" width="1" height="3.3" fill="#1a2d44"/>
<rect x="122" y="113.37" width="1" height="3.3" fill="#1a2d44"/>
<rect x="128" y="113.37" width="1" height="3.3" fill="#1a2d44"/>
<rect x="133" y="113.37" width="1" height="3.3" fill="#1a2d44"/>
<rect x="139" y="113.37" width="1" height="3.3" fill="#1a2d44"/>
<rect x="142" y="113.37" width="1" height="3.3" fill="#1a2d44"/>
<rect x="148" y="113.37" width="1" height="3.3" fill="#1a2d44"/>
<rect x="151" y="113.37" width="1" height="3.3" fill="#1a2d44"/>
<rect x="158" y="113.37" width="1" height="3.3" fill="#1a2d44"/>
<rect x="163" y="113.37" width="1" height="3.3" fill="#1a2d44"/>
<rect x="167" y="113.37" width="1" height="3.3" fill="#1a2d44"/>
<rect x="173" y="113.37" width="1" height="3.3" fill="#1a2d44"/>
<rect x="176" y="113.37" width="1" height="3.3" fill="#1a2d44"/>
<rect x="183" y="113.37" width="1" height="3.3" fill="#1a2d44"/>
<rect x="189" y="113.37" width="1" height="3.3" fill="#1a2d44"/>
<rect x="194" y="113.37" width="1" height="3.3" fill="#1a2d44"/>
<rect x="197" y="113.37" width="1" height="3.3" fill="#1a2d44"/>
<rect x="203" y="113.37" width="1" height="3.3" fill="#1a2d44"/>
<rect x="206" y="113.37" width="1" height="3.3" fill="#1a2d44"/>
<rect x="213" y="113.37" width="1" height="3.3" fill="#1a2d44"/>
<rect x="218" y="113.37" width="1" height="3.3" fill="#1a2d44"/>
<rect x="221" y="113.37" width="1" height="3.3" fill="#1a2d44"/>
<rect x="226" y="113.37" width="1" height="3.3" fill="#1a2d44"/>
<rect x="232" y="113.37" width="1" height="3.3" fill="#1a2d44"/>
<rect x="237" y="113.37" width="1" height="3.3" fill="#1a2d44"/>
<rect x="243" y="113.37" width="1" height="3.3" fill="#1a2d44"/>
<rect x="247" y="113.37" width="1" height="3.3" fill="#1a2d44"/>
<rect x="250" y="113.37" width="1" height="3.3" fill="#1a2d44"/>
<rect x="258" y="113.37" width="1" height="3.3" fill="#1a2d44"/>
<rect x="260" y="113.37" width="1" height="3.3" fill="#1a2d44"/>
<rect x="268" y="113.37" width="1" height="3.3" fill="#1a2d44"/>
<rect x="271" y="113.37" width="1" height="3.3" fill="#1a2d44"/>
<rect x="276" y="113.37" width="1" height="3.3" fill="#1a2d44"/>
<rect x="283" y="113.37" width="1" height="3.3" fill="#1a2d44"/>
<rect x="286" y="113.37" width="1" height="3.3" fill="#1a2d44"/>
<rect x="291" y="113.37" width="1" height="3.3" fill="#1a2d44"/>
<rect x="296" y="113.37" width="153.00" height="3.3" fill="#204450"/>
<rect x="309" y="113.37" width="1" height="3.3" fill="#1a3144"/>
<rect x="331" y="113.37" width="1" height="3.3" fill="#1a3144"/>
<rect x="349" y="113.37" width="1" height="3.3" fill="#1a3144"/>
<rect x="373" y="113.37" width="1" height="3.3" fill="#1a3144"/>
<rect x="386" y="113.37" width="1" height="3.3" fill="#1a3144"/>
<rect x="413" y="113.37" width="1" height="3.3" fill="#1a3144"/>
<rect x="421" y="113.37" width="1" height="3.3" fill="#1a3144"/>
<rect x="442" y="113.37" width="1" height="3.3" fill="#1a3144"/>
<rect x="6" y="119.95" width="443.00" height="3.3" fill="#3f4e8c"/>
<rect x="9" y="119.95" width="1" height="3.3" fill="#3a4884"/>
<rect x="20" y="119.95" width="1" height="3.3" fill="#3a4884"/>
<rect x="28" y="119.95" width="1" height="3.3" fill="#3a4884"/>
<rect x="36" y="119.95" width="1" height="3.3" fill="#3a4884"/>
<rect x="46" y="119.95" width="1" height="3.3" fill="#3a4884"/>
<rect x="52" y="119.95" width="1" height="3.3" fill="#3a4884"/>
<rect x="59" y="119.95" width="1" height="3.3" fill="#3a4884"/>
<rect x="68" y="119.95" width="1" height="3.3" fill="#3a4884"/>
<rect x="79" y="119.95" width="1" height="3.3" fill="#3a4884"/>
<rect x="88" y="119.95" width="1" height="3.3" fill="#3a4884"/>
<rect x="92" y="119.95" width="1" height="3.3" fill="#3a4884"/>
<rect x="104" y="119.95" width="1" height="3.3" fill="#3a4884"/>
<rect x="113" y="119.95" width="1" height="3.3" fill="#3a4884"/>
<rect x="119" y="119.95" width="1" height="3.3" fill="#3a4884"/>
<rect x="127" y="119.95" width="1" height="3.3" fill="#3a4884"/>
<rect x="134" y="119.95" width="1" height="3.3" fill="#3a4884"/>
<rect x="144" y="119.95" width="1" height="3.3" fill="#3a4884"/>
<rect x="152" y="119.95" width="1" height="3.3" fill="#3a4884"/>
<rect x="161" y="119.95" width="1" height="3.3" fill="#3a4884"/>
<rect x="166" y="119.95" width="1" height="3.3" fill="#3a4884"/>
<rect x="180" y="119.95" width="1" height="3.3" fill="#3a4884"/>
<rect x="185" y="119.95" width="1" height="3.3" fill="#3a4884"/>
<rect x="193" y="119.95" width="1" height="3.3" fill="#3a4884"/>
<rect x="204" y="119.95" width="1" height="3.3" fill="#3a4884"/>
<rect x="211" y="119.95" width="1" height="3.3" fill="#3a4884"/>
<rect x="219" y="119.95" width="1" height="3.3" fill="#3a4884"/>
<rect x="228" y="119.95" width="1" height="3.3" fill="#3a4884"/>
<rect x="233" y="119.95" width="1" height="3.3" fill="#3a4884"/>
<rect x="244" y="119.95" width="1" height="3.3" fill="#3a4884"/>
<rect x="252" y="119.95" width="1" height="3.3" fill="#3a4884"/>
<rect x="263" y="119.95" width="1" height="3.3" fill="#3a4884"/>
<rect x="271" y="119.95" width="1" height="3.3" fill="#3a4884"/>
<rect x="276" y="119.95" width="1" height="3.3" fill="#3a4884"/>
<rect x="285" y="119.95" width="1" height="3.3" fill="#3a4884"/>
<rect x="292" y="119.95" width="1" height="3.3" fill="#3a4884"/>
<rect x="302" y="119.95" width="1" height="3.3" fill="#3a4884"/>
<rect x="312" y="119.95" width="1" height="3.3" fill="#3a4884"/>
<rect x="321" y="119.95" width="1" height="3.3" fill="#3a4884"/>
<rect x="327" y="119.95" width="1" height="3.3" fill="#3a4884"/>
<rect x="334" y="119.95" width="1" height="3.3" fill="#3a4884"/>
<rect x="342" y="119.95" width="1" height="3.3" fill="#3a4884"/>
<rect x="353" y="119.95" width="1" height="3.3" fill="#3a4884"/>
<rect x="363" y="119.95" width="1" height="3.3" fill="#3a4884"/>
<rect x="367" y="119.95" width="1" height="3.3" fill="#3a4884"/>
<rect x="379" y="119.95" width="1" height="3.3" fill="#3a4884"/>
<rect x="383" y="119.95" width="1" height="3.3" fill="#3a4884"/>
<rect x="392" y="119.95" width="1" height="3.3" fill="#3a4884"/>
<rect x="400" y="119.95" width="1" height="3.3" fill="#3a4884"/>
<rect x="411" y="119.95" width="1" height="3.3" fill="#3a4884"/>
<rect x="418" y="119.95" width="1" height="3.3" fill="#3a4884"/>
<rect x="426" y="119.95" width="1" height="3.3" fill="#3a4884"/>
<rect x="436" y="119.95" width="1" height="3.3" fill="#3a4884"/>
<rect x="441" y="119.95" width="1" height="3.3" fill="#3a4884"/>
<rect x="11" y="119.95" width="1" height="3.3" fill="#4a5997"/>
<rect x="23" y="119.95" width="1" height="3.3" fill="#4a5997"/>
<rect x="32" y="119.95" width="1" height="3.3" fill="#4a5997"/>
<rect x="41" y="119.95" width="1" height="3.3" fill="#4a5997"/>
<rect x="54" y="119.95" width="1" height="3.3" fill="#4a5997"/>
<rect x="63" y="119.95" width="1" height="3.3" fill="#4a5997"/>
<rect x="72" y="119.95" width="1" height="3.3" fill="#4a5997"/>
<rect x="83" y="119.95" width="1" height="3.3" fill="#4a5997"/>
<rect x="94" y="119.95" width="1" height="3.3" fill="#4a5997"/>
<rect x="101" y="119.95" width="1" height="3.3" fill="#4a5997"/>
<rect x="111" y="119.95" width="1" height="3.3" fill="#4a5997"/>
<rect x="124" y="119.95" width="1" height="3.3" fill="#4a5997"/>
<rect x="156" y="119.95" width="1" height="3.3" fill="#4a5997"/>
<rect x="164" y="119.95" width="1" height="3.3" fill="#4a5997"/>
<rect x="176" y="119.95" width="1" height="3.3" fill="#4a5997"/>
<rect x="181" y="119.95" width="1" height="3.3" fill="#4a5997"/>
<rect x="195" y="119.95" width="1" height="3.3" fill="#4a5997"/>
<rect x="205" y="119.95" width="1" height="3.3" fill="#4a5997"/>
<rect x="216" y="119.95" width="1" height="3.3" fill="#4a5997"/>
<rect x="222" y="119.95" width="1" height="3.3" fill="#4a5997"/>
<rect x="232" y="119.95" width="1" height="3.3" fill="#4a5997"/>
<rect x="246" y="119.95" width="1" height="3.3" fill="#4a5997"/>
<rect x="251" y="119.95" width="1" height="3.3" fill="#4a5997"/>
<rect x="267" y="119.95" width="1" height="3.3" fill="#4a5997"/>
<rect x="281" y="119.95" width="1" height="3.3" fill="#4a5997"/>
<rect x="291" y="119.95" width="1" height="3.3" fill="#4a5997"/>
<rect x="305" y="119.95" width="1" height="3.3" fill="#4a5997"/>
<rect x="320" y="119.95" width="1" height="3.3" fill="#4a5997"/>
<rect x="336" y="119.95" width="1" height="3.3" fill="#4a5997"/>
<rect x="343" y="119.95" width="1" height="3.3" fill="#4a5997"/>
<rect x="355" y="119.95" width="1" height="3.3" fill="#4a5997"/>
<rect x="361" y="119.95" width="1" height="3.3" fill="#4a5997"/>
<rect x="373" y="119.95" width="1" height="3.3" fill="#4a5997"/>
<rect x="385" y="119.95" width="1" height="3.3" fill="#4a5997"/>
<rect x="390" y="119.95" width="1" height="3.3" fill="#4a5997"/>
<rect x="401" y="119.95" width="1" height="3.3" fill="#4a5997"/>
<rect x="415" y="119.95" width="1" height="3.3" fill="#4a5997"/>
<rect x="437" y="119.95" width="1" height="3.3" fill="#4a5997"/>
<rect x="6" y="126.53" width="443.00" height="3.3" fill="#482c7e"/>
<rect x="13" y="126.53" width="1" height="3.3" fill="#7e63a4"/>
<rect x="21" y="126.53" width="1" height="3.3" fill="#7e63a4"/>
<rect x="32" y="126.53" width="1" height="3.3" fill="#7e63a4"/>
<rect x="39" y="126.53" width="1" height="3.3" fill="#7e63a4"/>
<rect x="48" y="126.53" width="1" height="3.3" fill="#7e63a4"/>
<rect x="58" y="126.53" width="1" height="3.3" fill="#7e63a4"/>
<rect x="68" y="126.53" width="1" height="3.3" fill="#7e63a4"/>
<rect x="81" y="126.53" width="1" height="3.3" fill="#7e63a4"/>
<rect x="91" y="126.53" width="1" height="3.3" fill="#7e63a4"/>
<rect x="102" y="126.53" width="1" height="3.3" fill="#7e63a4"/>
<rect x="109" y="126.53" width="1" height="3.3" fill="#7e63a4"/>
<rect x="119" y="126.53" width="1" height="3.3" fill="#7e63a4"/>
<rect x="129" y="126.53" width="1" height="3.3" fill="#7e63a4"/>
<rect x="143" y="126.53" width="1" height="3.3" fill="#7e63a4"/>
<rect x="154" y="126.53" width="1" height="3.3" fill="#7e63a4"/>
<rect x="164" y="126.53" width="1" height="3.3" fill="#7e63a4"/>
<rect x="168" y="126.53" width="1" height="3.3" fill="#7e63a4"/>
<rect x="178" y="126.53" width="1" height="3.3" fill="#7e63a4"/>
<rect x="194" y="126.53" width="1" height="3.3" fill="#7e63a4"/>
<rect x="201" y="126.53" width="1" height="3.3" fill="#7e63a4"/>
<rect x="213" y="126.53" width="1" height="3.3" fill="#7e63a4"/>
<rect x="220" y="126.53" width="1" height="3.3" fill="#7e63a4"/>
<rect x="231" y="126.53" width="1" height="3.3" fill="#7e63a4"/>
<rect x="241" y="126.53" width="1" height="3.3" fill="#7e63a4"/>
<rect x="251" y="126.53" width="1" height="3.3" fill="#7e63a4"/>
<rect x="262" y="126.53" width="1" height="3.3" fill="#7e63a4"/>
<rect x="268" y="126.53" width="1" height="3.3" fill="#7e63a4"/>
<rect x="282" y="126.53" width="1" height="3.3" fill="#7e63a4"/>
<rect x="293" y="126.53" width="1" height="3.3" fill="#7e63a4"/>
<rect x="299" y="126.53" width="1" height="3.3" fill="#7e63a4"/>
<rect x="311" y="126.53" width="1" height="3.3" fill="#7e63a4"/>
<rect x="323" y="126.53" width="1" height="3.3" fill="#7e63a4"/>
<rect x="330" y="126.53" width="1" height="3.3" fill="#7e63a4"/>
<rect x="339" y="126.53" width="1" height="3.3" fill="#7e63a4"/>
<rect x="349" y="126.53" width="1" height="3.3" fill="#7e63a4"/>
<rect x="361" y="126.53" width="1" height="3.3" fill="#7e63a4"/>
<rect x="368" y="126.53" width="1" height="3.3" fill="#7e63a4"/>
<rect x="384" y="126.53" width="1" height="3.3" fill="#7e63a4"/>
<rect x="393" y="126.53" width="1" height="3.3" fill="#7e63a4"/>
<rect x="402" y="126.53" width="1" height="3.3" fill="#7e63a4"/>
<rect x="414" y="126.53" width="1" height="3.3" fill="#7e63a4"/>
<rect x="422" y="126.53" width="1" height="3.3" fill="#7e63a4"/>
<rect x="430" y="126.53" width="1" height="3.3" fill="#7e63a4"/>
<rect x="442" y="126.53" width="1" height="3.3" fill="#7e63a4"/>
<rect x="14" y="126.53" width="1" height="3.3" fill="#593387"/>
<rect x="23" y="126.53" width="1" height="3.3" fill="#593387"/>
<rect x="29" y="126.53" width="1" height="3.3" fill="#593387"/>
<rect x="44" y="126.53" width="1" height="3.3" fill="#593387"/>
<rect x="53" y="126.53" width="1" height="3.3" fill="#593387"/>
<rect x="63" y="126.53" width="1" height="3.3" fill="#593387"/>
<rect x="73" y="126.53" width="1" height="3.3" fill="#593387"/>
<rect x="80" y="126.53" width="1" height="3.3" fill="#593387"/>
<rect x="94" y="126.53" width="1" height="3.3" fill="#593387"/>
<rect x="104" y="126.53" width="1" height="3.3" fill="#593387"/>
<rect x="112" y="126.53" width="1" height="3.3" fill="#593387"/>
<rect x="123" y="126.53" width="1" height="3.3" fill="#593387"/>
<rect x="133" y="126.53" width="1" height="3.3" fill="#593387"/>
<rect x="140" y="126.53" width="1" height="3.3" fill="#593387"/>
<rect x="153" y="126.53" width="1" height="3.3" fill="#593387"/>
<rect x="158" y="126.53" width="1" height="3.3" fill="#593387"/>
<rect x="170" y="126.53" width="1" height="3.3" fill="#593387"/>
<rect x="181" y="126.53" width="1" height="3.3" fill="#593387"/>
<rect x="188" y="126.53" width="1" height="3.3" fill="#593387"/>
<rect x="200" y="126.53" width="1" height="3.3" fill="#593387"/>
<rect x="212" y="126.53" width="1" height="3.3" fill="#593387"/>
<rect x="222" y="126.53" width="1" height="3.3" fill="#593387"/>
<rect x="229" y="126.53" width="1" height="3.3" fill="#593387"/>
<rect x="244" y="126.53" width="1" height="3.3" fill="#593387"/>
<rect x="252" y="126.53" width="1" height="3.3" fill="#593387"/>
<rect x="260" y="126.53" width="1" height="3.3" fill="#593387"/>
<rect x="272" y="126.53" width="1" height="3.3" fill="#593387"/>
<rect x="291" y="126.53" width="1" height="3.3" fill="#593387"/>
<rect x="300" y="126.53" width="1" height="3.3" fill="#593387"/>
<rect x="315" y="126.53" width="1" height="3.3" fill="#593387"/>
<rect x="322" y="126.53" width="1" height="3.3" fill="#593387"/>
<rect x="332" y="126.53" width="1" height="3.3" fill="#593387"/>
<rect x="343" y="126.53" width="1" height="3.3" fill="#593387"/>
<rect x="354" y="126.53" width="1" height="3.3" fill="#593387"/>
<rect x="358" y="126.53" width="1" height="3.3" fill="#593387"/>
<rect x="372" y="126.53" width="1" height="3.3" fill="#593387"/>
<rect x="383" y="126.53" width="1" height="3.3" fill="#593387"/>
<rect x="389" y="126.53" width="1" height="3.3" fill="#593387"/>
<rect x="400" y="126.53" width="1" height="3.3" fill="#593387"/>
<rect x="408" y="126.53" width="1" height="3.3" fill="#593387"/>
<rect x="419" y="126.53" width="1" height="3.3" fill="#593387"/>
<rect x="438" y="126.53" width="1" height="3.3" fill="#593387"/>
<rect x="6" y="133.11" width="443.00" height="3.3" fill="#784680"/>
<rect x="9" y="133.11" width="1" height="3.3" fill="#ac8bb0"/>
<rect x="14" y="133.11" width="1" height="3.3" fill="#ac8bb0"/>
<rect x="20" y="133.11" width="1" height="3.3" fill="#ac8bb0"/>
<rect x="28" y="133.11" width="1" height="3.3" fill="#ac8bb0"/>
<rect x="33" y="133.11" width="1" height="3.3" fill="#ac8bb0"/>
<rect x="41" y="133.11" width="1" height="3.3" fill="#ac8bb0"/>
<rect x="46" y="133.11" width="1" height="3.3" fill="#ac8bb0"/>
<rect x="53" y="133.11" width="1" height="3.3" fill="#ac8bb0"/>
<rect x="56" y="133.11" width="1" height="3.3" fill="#ac8bb0"/>
<rect x="64" y="133.11" width="1" height="3.3" fill="#ac8bb0"/>
<rect x="71" y="133.11" width="1" height="3.3" fill="#ac8bb0"/>
<rect x="74" y="133.11" width="1" height="3.3" fill="#ac8bb0"/>
<rect x="84" y="133.11" width="1" height="3.3" fill="#ac8bb0"/>
<rect x="87" y="133.11" width="1" height="3.3" fill="#ac8bb0"/>
<rect x="95" y="133.11" width="1" height="3.3" fill="#ac8bb0"/>
<rect x="100" y="133.11" width="1" height="3.3" fill="#ac8bb0"/>
<rect x="108" y="133.11" width="1" height="3.3" fill="#ac8bb0"/>
<rect x="114" y="133.11" width="1" height="3.3" fill="#ac8bb0"/>
<rect x="118" y="133.11" width="1" height="3.3" fill="#ac8bb0"/>
<rect x="128" y="133.11" width="1" height="3.3" fill="#ac8bb0"/>
<rect x="132" y="133.11" width="1" height="3.3" fill="#ac8bb0"/>
<rect x="139" y="133.11" width="1" height="3.3" fill="#ac8bb0"/>
<rect x="145" y="133.11" width="1" height="3.3" fill="#ac8bb0"/>
<rect x="151" y="133.11" width="1" height="3.3" fill="#ac8bb0"/>
<rect x="157" y="133.11" width="1" height="3.3" fill="#ac8bb0"/>
<rect x="164" y="133.11" width="1" height="3.3" fill="#ac8bb0"/>
<rect x="170" y="133.11" width="1" height="3.3" fill="#ac8bb0"/>
<rect x="175" y="133.11" width="1" height="3.3" fill="#ac8bb0"/>
<rect x="184" y="133.11" width="1" height="3.3" fill="#ac8bb0"/>
<rect x="188" y="133.11" width="1" height="3.3" fill="#ac8bb0"/>
<rect x="193" y="133.11" width="1" height="3.3" fill="#ac8bb0"/>
<rect x="200" y="133.11" width="1" height="3.3" fill="#ac8bb0"/>
<rect x="206" y="133.11" width="1" height="3.3" fill="#ac8bb0"/>
<rect x="212" y="133.11" width="1" height="3.3" fill="#ac8bb0"/>
<rect x="221" y="133.11" width="1" height="3.3" fill="#ac8bb0"/>
<rect x="226" y="133.11" width="1" height="3.3" fill="#ac8bb0"/>
<rect x="234" y="133.11" width="1" height="3.3" fill="#ac8bb0"/>
<rect x="240" y="133.11" width="1" height="3.3" fill="#ac8bb0"/>
<rect x="243" y="133.11" width="1" height="3.3" fill="#ac8bb0"/>
<rect x="253" y="133.11" width="1" height="3.3" fill="#ac8bb0"/>
<rect x="260" y="133.11" width="1" height="3.3" fill="#ac8bb0"/>
<rect x="262" y="133.11" width="1" height="3.3" fill="#ac8bb0"/>
<rect x="272" y="133.11" width="1" height="3.3" fill="#ac8bb0"/>
<rect x="276" y="133.11" width="1" height="3.3" fill="#ac8bb0"/>
<rect x="282" y="133.11" width="1" height="3.3" fill="#ac8bb0"/>
<rect x="291" y="133.11" width="1" height="3.3" fill="#ac8bb0"/>
<rect x="294" y="133.11" width="1" height="3.3" fill="#ac8bb0"/>
<rect x="301" y="133.11" width="1" height="3.3" fill="#ac8bb0"/>
<rect x="309" y="133.11" width="1" height="3.3" fill="#ac8bb0"/>
<rect x="315" y="133.11" width="1" height="3.3" fill="#ac8bb0"/>
<rect x="320" y="133.11" width="1" height="3.3" fill="#ac8bb0"/>
<rect x="328" y="133.11" width="1" height="3.3" fill="#ac8bb0"/>
<rect x="334" y="133.11" width="1" height="3.3" fill="#ac8bb0"/>
<rect x="339" y="133.11" width="1" height="3.3" fill="#ac8bb0"/>
<rect x="343" y="133.11" width="1" height="3.3" fill="#ac8bb0"/>
<rect x="352" y="133.11" width="1" height="3.3" fill="#ac8bb0"/>
<rect x="357" y="133.11" width="1" height="3.3" fill="#ac8bb0"/>
<rect x="363" y="133.11" width="1" height="3.3" fill="#ac8bb0"/>
<rect x="368" y="133.11" width="1" height="3.3" fill="#ac8bb0"/>
<rect x="376" y="133.11" width="1" height="3.3" fill="#ac8bb0"/>
<rect x="381" y="133.11" width="1" height="3.3" fill="#ac8bb0"/>
<rect x="389" y="133.11" width="1" height="3.3" fill="#ac8bb0"/>
<rect x="396" y="133.11" width="1" height="3.3" fill="#ac8bb0"/>
<rect x="401" y="133.11" width="1" height="3.3" fill="#ac8bb0"/>
<rect x="407" y="133.11" width="1" height="3.3" fill="#ac8bb0"/>
<rect x="414" y="133.11" width="1" height="3.3" fill="#ac8bb0"/>
<rect x="420" y="133.11" width="1" height="3.3" fill="#ac8bb0"/>
<rect x="428" y="133.11" width="1" height="3.3" fill="#ac8bb0"/>
<rect x="433" y="133.11" width="1" height="3.3" fill="#ac8bb0"/>
<rect x="441" y="133.11" width="1" height="3.3" fill="#ac8bb0"/>
<rect x="447" y="133.11" width="1" height="3.3" fill="#ac8bb0"/>
<rect x="10" y="133.11" width="1" height="3.3" fill="#563772"/>
<rect x="16" y="133.11" width="1" height="3.3" fill="#563772"/>
<rect x="27" y="133.11" width="1" height="3.3" fill="#563772"/>
<rect x="34" y="133.11" width="1" height="3.3" fill="#563772"/>
<rect x="40" y="133.11" width="1" height="3.3" fill="#563772"/>
<rect x="62" y="133.11" width="1" height="3.3" fill="#563772"/>
<rect x="69" y="133.11" width="1" height="3.3" fill="#563772"/>
<rect x="76" y="133.11" width="1" height="3.3" fill="#563772"/>
<rect x="83" y="133.11" width="1" height="3.3" fill="#563772"/>
<rect x="91" y="133.11" width="1" height="3.3" fill="#563772"/>
<rect x="103" y="133.11" width="1" height="3.3" fill="#563772"/>
<rect x="120" y="133.11" width="1" height="3.3" fill="#563772"/>
<rect x="127" y="133.11" width="1" height="3.3" fill="#563772"/>
<rect x="130" y="133.11" width="1" height="3.3" fill="#563772"/>
<rect x="138" y="133.11" width="1" height="3.3" fill="#563772"/>
<rect x="146" y="133.11" width="1" height="3.3" fill="#563772"/>
<rect x="154" y="133.11" width="1" height="3.3" fill="#563772"/>
<rect x="162" y="133.11" width="1" height="3.3" fill="#563772"/>
<rect x="166" y="133.11" width="1" height="3.3" fill="#563772"/>
<rect x="176" y="133.11" width="1" height="3.3" fill="#563772"/>
<rect x="181" y="133.11" width="1" height="3.3" fill="#563772"/>
<rect x="198" y="133.11" width="1" height="3.3" fill="#563772"/>
<rect x="204" y="133.11" width="1" height="3.3" fill="#563772"/>
<rect x="218" y="133.11" width="1" height="3.3" fill="#563772"/>
<rect x="225" y="133.11" width="1" height="3.3" fill="#563772"/>
<rect x="231" y="133.11" width="1" height="3.3" fill="#563772"/>
<rect x="239" y="133.11" width="1" height="3.3" fill="#563772"/>
<rect x="248" y="133.11" width="1" height="3.3" fill="#563772"/>
<rect x="256" y="133.11" width="1" height="3.3" fill="#563772"/>
<rect x="259" y="133.11" width="1" height="3.3" fill="#563772"/>
<rect x="266" y="133.11" width="1" height="3.3" fill="#563772"/>
<rect x="277" y="133.11" width="1" height="3.3" fill="#563772"/>
<rect x="283" y="133.11" width="1" height="3.3" fill="#563772"/>
<rect x="296" y="133.11" width="1" height="3.3" fill="#563772"/>
<rect x="304" y="133.11" width="1" height="3.3" fill="#563772"/>
<rect x="310" y="133.11" width="1" height="3.3" fill="#563772"/>
<rect x="325" y="133.11" width="1" height="3.3" fill="#563772"/>
<rect x="333" y="133.11" width="1" height="3.3" fill="#563772"/>
<rect x="342" y="133.11" width="1" height="3.3" fill="#563772"/>
<rect x="346" y="133.11" width="1" height="3.3" fill="#563772"/>
<rect x="354" y="133.11" width="1" height="3.3" fill="#563772"/>
<rect x="362" y="133.11" width="1" height="3.3" fill="#563772"/>
<rect x="370" y="133.11" width="1" height="3.3" fill="#563772"/>
<rect x="375" y="133.11" width="1" height="3.3" fill="#563772"/>
<rect x="382" y="133.11" width="1" height="3.3" fill="#563772"/>
<rect x="388" y="133.11" width="1" height="3.3" fill="#563772"/>
<rect x="399" y="133.11" width="1" height="3.3" fill="#563772"/>
<rect x="402" y="133.11" width="1" height="3.3" fill="#563772"/>
<rect x="409" y="133.11" width="1" height="3.3" fill="#563772"/>
<rect x="419" y="133.11" width="1" height="3.3" fill="#563772"/>
<rect x="425" y="133.11" width="1" height="3.3" fill="#563772"/>
<rect x="434" y="133.11" width="1" height="3.3" fill="#563772"/>
<rect x="439" y="133.11" width="1" height="3.3" fill="#563772"/>
<rect x="448" y="133.11" width="1" height="3.3" fill="#563772"/>
<rect x="30" y="133.11" width="1" height="3.3" fill="#a88378"/>
<rect x="42" y="133.11" width="1" height="3.3" fill="#a88378"/>
<rect x="65" y="133.11" width="1" height="3.3" fill="#a88378"/>
<rect x="110" y="133.11" width="1" height="3.3" fill="#a88378"/>
<rect x="124" y="133.11" width="1" height="3.3" fill="#a88378"/>
<rect x="143" y="133.11" width="1" height="3.3" fill="#a88378"/>
<rect x="191" y="133.11" width="1" height="3.3" fill="#a88378"/>
<rect x="222" y="133.11" width="1" height="3.3" fill="#a88378"/>
<rect x="250" y="133.11" width="1" height="3.3" fill="#a88378"/>
<rect x="268" y="133.11" width="1" height="3.3" fill="#a88378"/>
<rect x="293" y="133.11" width="1" height="3.3" fill="#a88378"/>
<rect x="314" y="133.11" width="1" height="3.3" fill="#a88378"/>
<rect x="347" y="133.11" width="1" height="3.3" fill="#a88378"/>
<rect x="372" y="133.11" width="1" height="3.3" fill="#a88378"/>
<rect x="385" y="133.11" width="1" height="3.3" fill="#a88378"/>
<rect x="405" y="133.11" width="1" height="3.3" fill="#a88378"/>
<rect x="426" y="133.11" width="1" height="3.3" fill="#a88378"/>
<rect x="6" y="139.69" width="443.00" height="3.3" fill="#1f2066"/>
<rect x="10" y="139.69" width="1" height="3.3" fill="#7374a2"/>
<rect x="15" y="139.69" width="1" height="3.3" fill="#7374a2"/>
<rect x="20" y="139.69" width="1" height="3.3" fill="#7374a2"/>
<rect x="25" y="139.69" width="1" height="3.3" fill="#7374a2"/>
<rect x="30" y="139.69" width="1" height="3.3" fill="#7374a2"/>
<rect x="35" y="139.69" width="1" height="3.3" fill="#7374a2"/>
<rect x="39" y="139.69" width="1" height="3.3" fill="#7374a2"/>
<rect x="46" y="139.69" width="1" height="3.3" fill="#7374a2"/>
<rect x="52" y="139.69" width="1" height="3.3" fill="#7374a2"/>
<rect x="56" y="139.69" width="1" height="3.3" fill="#7374a2"/>
<rect x="62" y="139.69" width="1" height="3.3" fill="#7374a2"/>
<rect x="66" y="139.69" width="1" height="3.3" fill="#7374a2"/>
<rect x="69" y="139.69" width="1" height="3.3" fill="#7374a2"/>
<rect x="76" y="139.69" width="1" height="3.3" fill="#7374a2"/>
<rect x="82" y="139.69" width="1" height="3.3" fill="#7374a2"/>
<rect x="85" y="139.69" width="1" height="3.3" fill="#7374a2"/>
<rect x="89" y="139.69" width="1" height="3.3" fill="#7374a2"/>
<rect x="96" y="139.69" width="1" height="3.3" fill="#7374a2"/>
<rect x="101" y="139.69" width="1" height="3.3" fill="#7374a2"/>
<rect x="106" y="139.69" width="1" height="3.3" fill="#7374a2"/>
<rect x="112" y="139.69" width="1" height="3.3" fill="#7374a2"/>
<rect x="116" y="139.69" width="1" height="3.3" fill="#7374a2"/>
<rect x="122" y="139.69" width="1" height="3.3" fill="#7374a2"/>
<rect x="124" y="139.69" width="1" height="3.3" fill="#7374a2"/>
<rect x="131" y="139.69" width="1" height="3.3" fill="#7374a2"/>
<rect x="136" y="139.69" width="1" height="3.3" fill="#7374a2"/>
<rect x="139" y="139.69" width="1" height="3.3" fill="#7374a2"/>
<rect x="144" y="139.69" width="1" height="3.3" fill="#7374a2"/>
<rect x="151" y="139.69" width="1" height="3.3" fill="#7374a2"/>
<rect x="157" y="139.69" width="1" height="3.3" fill="#7374a2"/>
<rect x="159" y="139.69" width="1" height="3.3" fill="#7374a2"/>
<rect x="166" y="139.69" width="1" height="3.3" fill="#7374a2"/>
<rect x="169" y="139.69" width="1" height="3.3" fill="#7374a2"/>
<rect x="176" y="139.69" width="1" height="3.3" fill="#7374a2"/>
<rect x="181" y="139.69" width="1" height="3.3" fill="#7374a2"/>
<rect x="185" y="139.69" width="1" height="3.3" fill="#7374a2"/>
<rect x="189" y="139.69" width="1" height="3.3" fill="#7374a2"/>
<rect x="196" y="139.69" width="1" height="3.3" fill="#7374a2"/>
<rect x="201" y="139.69" width="1" height="3.3" fill="#7374a2"/>
<rect x="206" y="139.69" width="1" height="3.3" fill="#7374a2"/>
<rect x="210" y="139.69" width="1" height="3.3" fill="#7374a2"/>
<rect x="215" y="139.69" width="1" height="3.3" fill="#7374a2"/>
<rect x="222" y="139.69" width="1" height="3.3" fill="#7374a2"/>
<rect x="226" y="139.69" width="1" height="3.3" fill="#7374a2"/>
<rect x="230" y="139.69" width="1" height="3.3" fill="#7374a2"/>
<rect x="236" y="139.69" width="1" height="3.3" fill="#7374a2"/>
<rect x="241" y="139.69" width="1" height="3.3" fill="#7374a2"/>
<rect x="246" y="139.69" width="1" height="3.3" fill="#7374a2"/>
<rect x="252" y="139.69" width="1" height="3.3" fill="#7374a2"/>
<rect x="255" y="139.69" width="1" height="3.3" fill="#7374a2"/>
<rect x="262" y="139.69" width="1" height="3.3" fill="#7374a2"/>
<rect x="266" y="139.69" width="1" height="3.3" fill="#7374a2"/>
<rect x="272" y="139.69" width="1" height="3.3" fill="#7374a2"/>
<rect x="277" y="139.69" width="1" height="3.3" fill="#7374a2"/>
<rect x="282" y="139.69" width="1" height="3.3" fill="#7374a2"/>
<rect x="287" y="139.69" width="1" height="3.3" fill="#7374a2"/>
<rect x="292" y="139.69" width="1" height="3.3" fill="#7374a2"/>
<rect x="296" y="139.69" width="1" height="3.3" fill="#7374a2"/>
<rect x="301" y="139.69" width="1" height="3.3" fill="#7374a2"/>
<rect x="306" y="139.69" width="1" height="3.3" fill="#7374a2"/>
<rect x="312" y="139.69" width="1" height="3.3" fill="#7374a2"/>
<rect x="315" y="139.69" width="1" height="3.3" fill="#7374a2"/>
<rect x="320" y="139.69" width="1" height="3.3" fill="#7374a2"/>
<rect x="324" y="139.69" width="1" height="3.3" fill="#7374a2"/>
<rect x="331" y="139.69" width="1" height="3.3" fill="#7374a2"/>
<rect x="337" y="139.69" width="1" height="3.3" fill="#7374a2"/>
<rect x="340" y="139.69" width="1" height="3.3" fill="#7374a2"/>
<rect x="344" y="139.69" width="1" height="3.3" fill="#7374a2"/>
<rect x="349" y="139.69" width="1" height="3.3" fill="#7374a2"/>
<rect x="355" y="139.69" width="1" height="3.3" fill="#7374a2"/>
<rect x="360" y="139.69" width="1" height="3.3" fill="#7374a2"/>
<rect x="367" y="139.69" width="1" height="3.3" fill="#7374a2"/>
<rect x="369" y="139.69" width="1" height="3.3" fill="#7374a2"/>
<rect x="375" y="139.69" width="1" height="3.3" fill="#7374a2"/>
<rect x="379" y="139.69" width="1" height="3.3" fill="#7374a2"/>
<rect x="386" y="139.69" width="1" height="3.3" fill="#7374a2"/>
<rect x="391" y="139.69" width="1" height="3.3" fill="#7374a2"/>
<rect x="394" y="139.69" width="1" height="3.3" fill="#7374a2"/>
<rect x="399" y="139.69" width="1" height="3.3" fill="#7374a2"/>
<rect x="405" y="139.69" width="1" height="3.3" fill="#7374a2"/>
<rect x="411" y="139.69" width="1" height="3.3" fill="#7374a2"/>
<rect x="417" y="139.69" width="1" height="3.3" fill="#7374a2"/>
<rect x="419" y="139.69" width="1" height="3.3" fill="#7374a2"/>
<rect x="424" y="139.69" width="1" height="3.3" fill="#7374a2"/>
<rect x="429" y="139.69" width="1" height="3.3" fill="#7374a2"/>
<rect x="434" y="139.69" width="1" height="3.3" fill="#7374a2"/>
<rect x="440" y="139.69" width="1" height="3.3" fill="#7374a2"/>
<rect x="446" y="139.69" width="1" height="3.3" fill="#7374a2"/>
<text x="452" y="25.00" font-size="5.9" textLength="9.6" lengthAdjust="spacingAndGlyphs" font-family="Liberation Sans, sans-serif" fill="#1e1e1e">AML</text>
<text x="462" y="22.70" font-size="3.6" font-family="Liberation Sans, sans-serif" fill="#555">high</text>
<text x="452" y="31.58" font-size="5.9" font-family="Liberation Sans, sans-serif" fill="#1e1e1e">t(6;9)</text>
<text x="452" y="38.16" font-size="5.9" font-family="Liberation Sans, sans-serif" fill="#1e1e1e">t(8;21)</text>
<text x="452" y="44.74" font-size="5.9" textLength="43.07" lengthAdjust="spacingAndGlyphs" font-family="Liberation Sans, sans-serif" fill="#1e1e1e">t(6;11)(q27;q23)</text>
<text x="452" y="51.32" font-size="5.9" textLength="43.07" lengthAdjust="spacingAndGlyphs" font-family="Liberation Sans, sans-serif" fill="#1e1e1e">t(9;11)(p22;q23)</text>
<text x="452" y="57.90" font-size="5.9" textLength="52.4" lengthAdjust="spacingAndGlyphs" font-family="Liberation Sans, sans-serif" fill="#1e1e1e">t(10;11)(p11.2;q23)</text>
<text x="452" y="64.48" font-size="5.9" textLength="51.85" lengthAdjust="spacingAndGlyphs" font-family="Liberation Sans, sans-serif" fill="#1e1e1e">t(11;19)(q23;p13.1)</text>
<text x="452" y="71.06" font-size="5.9" font-family="Liberation Sans, sans-serif" fill="#1e1e1e">CBF</text>
<text x="452" y="77.64" font-size="5.9" font-family="Liberation Sans, sans-serif" fill="#1e1e1e">inv(16)</text>
<text x="452" y="84.22" font-size="5.9" textLength="27.9" lengthAdjust="spacingAndGlyphs" font-family="Liberation Sans, sans-serif" fill="#1e1e1e">Trisomy 21</text>
<text x="452" y="90.80" font-size="5.9" font-family="Liberation Sans, sans-serif" fill="#1e1e1e">KMT2A</text>
<text x="452" y="97.38" font-size="5.9" font-family="Liberation Sans, sans-serif" fill="#1e1e1e">Minus Y</text>
<text x="452" y="103.96" font-size="5.9" font-family="Liberation Sans, sans-serif" fill="#1e1e1e">Minus X</text>
<text x="452" y="110.54" font-size="5.9" font-family="Liberation Sans, sans-serif" fill="#1e1e1e">Cytogenetic complexity</text>
<text x="452" y="117.12" font-size="5.9" font-family="Liberation Sans, sans-serif" fill="#1e1e1e">NPM mutation</text>
<text x="452" y="123.70" font-size="5.9" font-family="Liberation Sans, sans-serif" fill="#1e1e1e">CEBPA mutation</text>
<text x="452" y="130.28" font-size="5.9" font-family="Liberation Sans, sans-serif" fill="#1e1e1e">MRD at end of course 1</text>
<text x="452" y="136.86" font-size="5.9" font-family="Liberation Sans, sans-serif" fill="#1e1e1e">MRD at end of course 2</text>
<text x="452" y="143.44" font-size="5.9" font-family="Liberation Sans, sans-serif" fill="#1e1e1e">HSCT</text>
<text x="6.3" y="156.4" font-size="5.8" font-family="Liberation Sans, sans-serif" fill="#1e1e1e">AML<tspan font-size="4.3" dy="-1.5" fill="#444">high</tspan></text>
<rect x="5.95" y="160.60" width="4.7" height="4.5" fill="#f0c23a"/>
<text x="12.0" y="164.80" font-size="5.7" font-family="Liberation Sans, sans-serif" fill="#1e1e1e">High</text>
<rect x="5.95" y="168.40" width="4.7" height="4.5" fill="#2b3f99"/>
<text x="12.0" y="172.60" font-size="5.7" font-family="Liberation Sans, sans-serif" fill="#1e1e1e">Low</text>
<text x="34.1" y="156.4" font-size="5.8" font-family="Liberation Sans, sans-serif" fill="#1e1e1e">t(6;9)</text>
<rect x="33.75" y="160.60" width="4.7" height="4.5" fill="#2b4d9a"/>
<text x="39.800000000000004" y="164.80" font-size="5.7" font-family="Liberation Sans, sans-serif" fill="#1e1e1e">No</text>
<rect x="33.75" y="168.40" width="4.7" height="4.5" fill="#bfc0c5"/>
<text x="39.800000000000004" y="172.60" font-size="5.7" font-family="Liberation Sans, sans-serif" fill="#1e1e1e">Unknown</text>
<rect x="33.75" y="176.20" width="4.7" height="4.5" fill="#d42030"/>
<text x="39.800000000000004" y="180.40" font-size="5.7" font-family="Liberation Sans, sans-serif" fill="#1e1e1e">Yes</text>
<text x="70" y="156.4" font-size="5.8" font-family="Liberation Sans, sans-serif" fill="#1e1e1e">t(8;21)</text>
<rect x="69.65" y="160.60" width="4.7" height="4.5" fill="#cc3078"/>
<text x="75.7" y="164.80" font-size="5.7" font-family="Liberation Sans, sans-serif" fill="#1e1e1e">No</text>
<rect x="69.65" y="168.40" width="4.7" height="4.5" fill="#bfc0c5"/>
<text x="75.7" y="172.60" font-size="5.7" font-family="Liberation Sans, sans-serif" fill="#1e1e1e">Unknown</text>
<rect x="69.65" y="176.20" width="4.7" height="4.5" fill="#285a84"/>
<text x="75.7" y="180.40" font-size="5.7" font-family="Liberation Sans, sans-serif" fill="#1e1e1e">Yes</text>
<text x="104.9" y="156.4" font-size="5.8" textLength="43.2" lengthAdjust="spacingAndGlyphs" font-family="Liberation Sans, sans-serif" fill="#1e1e1e">t(6;11)(q27;q23)</text>
<rect x="104.15" y="160.60" width="4.7" height="4.5" fill="#c08a2a"/>
<text x="110.2" y="164.80" font-size="5.7" font-family="Liberation Sans, sans-serif" fill="#1e1e1e">No</text>
<rect x="104.15" y="168.40" width="4.7" height="4.5" fill="#bfc0c5"/>
<text x="110.2" y="172.60" font-size="5.7" font-family="Liberation Sans, sans-serif" fill="#1e1e1e">Unknown</text>
<rect x="104.15" y="176.20" width="4.7" height="4.5" fill="#b03a30"/>
<text x="110.2" y="180.40" font-size="5.7" font-family="Liberation Sans, sans-serif" fill="#1e1e1e">Yes</text>
<text x="153.6" y="156.4" font-size="5.8" textLength="43.5" lengthAdjust="spacingAndGlyphs" font-family="Liberation Sans, sans-serif" fill="#1e1e1e">t(9;11)(p22;q23)</text>
<rect x="153.4" y="160.60" width="4.7" height="4.5" fill="#c02838"/>
<text x="159.45" y="164.80" font-size="5.7" font-family="Liberation Sans, sans-serif" fill="#1e1e1e">No</text>
<rect x="153.4" y="168.40" width="4.7" height="4.5" fill="#bfc0c5"/>
<text x="159.45" y="172.60" font-size="5.7" font-family="Liberation Sans, sans-serif" fill="#1e1e1e">Unknown</text>
<rect x="153.4" y="176.20" width="4.7" height="4.5" fill="#a0c860"/>
<text x="159.45" y="180.40" font-size="5.7" font-family="Liberation Sans, sans-serif" fill="#1e1e1e">Yes</text>
<text x="203.9" y="156.4" font-size="5.8" textLength="51.1" lengthAdjust="spacingAndGlyphs" font-family="Liberation Sans, sans-serif" fill="#1e1e1e">t(10;11)(p11.2;q23)</text>
<rect x="202.65" y="160.60" width="4.7" height="4.5" fill="#3aa048"/>
<text x="208.7" y="164.80" font-size="5.7" font-family="Liberation Sans, sans-serif" fill="#1e1e1e">No</text>
<rect x="202.65" y="168.40" width="4.7" height="4.5" fill="#bfc0c5"/>
<text x="208.7" y="172.60" font-size="5.7" font-family="Liberation Sans, sans-serif" fill="#1e1e1e">Unknown</text>
<rect x="202.65" y="176.20" width="4.7" height="4.5" fill="#2b3a90"/>
<text x="208.7" y="180.40" font-size="5.7" font-family="Liberation Sans, sans-serif" fill="#1e1e1e">Yes</text>
<text x="261" y="156.4" font-size="5.8" font-family="Liberation Sans, sans-serif" fill="#1e1e1e">t(11;19)(q23;p13.1)</text>
<rect x="260.65" y="160.60" width="4.7" height="4.5" fill="#a8cc50"/>
<text x="266.7" y="164.80" font-size="5.7" font-family="Liberation Sans, sans-serif" fill="#1e1e1e">No</text>
<rect x="260.65" y="168.40" width="4.7" height="4.5" fill="#bfc0c5"/>
<text x="266.7" y="172.60" font-size="5.7" font-family="Liberation Sans, sans-serif" fill="#1e1e1e">Unknown</text>
<rect x="260.65" y="176.20" width="4.7" height="4.5" fill="#e05050"/>
<text x="266.7" y="180.40" font-size="5.7" font-family="Liberation Sans, sans-serif" fill="#1e1e1e">Yes</text>
<text x="319.5" y="156.4" font-size="5.8" font-family="Liberation Sans, sans-serif" fill="#1e1e1e">CBF</text>
<rect x="319.15" y="160.60" width="4.7" height="4.5" fill="#1a8a80"/>
<text x="325.2" y="164.80" font-size="5.7" font-family="Liberation Sans, sans-serif" fill="#1e1e1e">No</text>
<rect x="319.15" y="168.40" width="4.7" height="4.5" fill="#bfc0c5"/>
<text x="325.2" y="172.60" font-size="5.7" font-family="Liberation Sans, sans-serif" fill="#1e1e1e">Unknown</text>
<rect x="319.15" y="176.20" width="4.7" height="4.5" fill="#a060a8"/>
<text x="325.2" y="180.40" font-size="5.7" font-family="Liberation Sans, sans-serif" fill="#1e1e1e">Yes</text>
<text x="355" y="156.4" font-size="5.8" font-family="Liberation Sans, sans-serif" fill="#1e1e1e">inv(16)</text>
<rect x="354.65" y="160.60" width="4.7" height="4.5" fill="#2b3080"/>
<text x="360.7" y="164.80" font-size="5.7" font-family="Liberation Sans, sans-serif" fill="#1e1e1e">No</text>
<rect x="354.65" y="168.40" width="4.7" height="4.5" fill="#bfc0c5"/>
<text x="360.7" y="172.60" font-size="5.7" font-family="Liberation Sans, sans-serif" fill="#1e1e1e">Unknown</text>
<rect x="354.65" y="176.20" width="4.7" height="4.5" fill="#3c3c8c"/>
<text x="360.7" y="180.40" font-size="5.7" font-family="Liberation Sans, sans-serif" fill="#1e1e1e">Yes</text>
<text x="390" y="156.4" font-size="5.8" font-family="Liberation Sans, sans-serif" fill="#1e1e1e">Trisomy 21</text>
<rect x="389.65" y="160.60" width="4.7" height="4.5" fill="#e29070"/>
<text x="395.7" y="164.80" font-size="5.7" font-family="Liberation Sans, sans-serif" fill="#1e1e1e">No</text>
<rect x="389.65" y="168.40" width="4.7" height="4.5" fill="#bfc0c5"/>
<text x="395.7" y="172.60" font-size="5.7" font-family="Liberation Sans, sans-serif" fill="#1e1e1e">Unknown</text>
<rect x="389.65" y="176.20" width="4.7" height="4.5" fill="#d05070"/>
<text x="395.7" y="180.40" font-size="5.7" font-family="Liberation Sans, sans-serif" fill="#1e1e1e">Yes</text>
<text x="426" y="156.4" font-size="5.8" font-family="Liberation Sans, sans-serif" fill="#1e1e1e">KMT2A</text>
<rect x="425.65" y="160.60" width="4.7" height="4.5" fill="#5aaa5a"/>
<text x="431.7" y="164.80" font-size="5.7" font-family="Liberation Sans, sans-serif" fill="#1e1e1e">No</text>
<rect x="425.65" y="168.40" width="4.7" height="4.5" fill="#bfc0c5"/>
<text x="431.7" y="172.60" font-size="5.7" font-family="Liberation Sans, sans-serif" fill="#1e1e1e">Unknown</text>
<rect x="425.65" y="176.20" width="4.7" height="4.5" fill="#90c040"/>
<text x="431.7" y="180.40" font-size="5.7" font-family="Liberation Sans, sans-serif" fill="#1e1e1e">Yes</text>
<text x="6" y="197.4" font-size="5.8" font-family="Liberation Sans, sans-serif" fill="#1e1e1e">Minus Y</text>
<rect x="5.65" y="201.50" width="4.7" height="4.5" fill="#e07030"/>
<text x="11.7" y="205.70" font-size="5.7" font-family="Liberation Sans, sans-serif" fill="#1e1e1e">No</text>
<rect x="5.65" y="209.30" width="4.7" height="4.5" fill="#bfc0c5"/>
<text x="11.7" y="213.50" font-size="5.7" font-family="Liberation Sans, sans-serif" fill="#1e1e1e">Unknown</text>
<rect x="5.65" y="217.10" width="4.7" height="4.5" fill="#b8c020"/>
<text x="11.7" y="221.30" font-size="5.7" font-family="Liberation Sans, sans-serif" fill="#1e1e1e">Yes</text>
<text x="42" y="197.4" font-size="5.8" font-family="Liberation Sans, sans-serif" fill="#1e1e1e">Minus X</text>
<rect x="41.65" y="201.50" width="4.7" height="4.5" fill="#1a8a6a"/>
<text x="47.7" y="205.70" font-size="5.7" font-family="Liberation Sans, sans-serif" fill="#1e1e1e">No</text>
<rect x="41.65" y="209.30" width="4.7" height="4.5" fill="#bfc0c5"/>
<text x="47.7" y="213.50" font-size="5.7" font-family="Liberation Sans, sans-serif" fill="#1e1e1e">Unknown</text>
<rect x="41.65" y="217.10" width="4.7" height="4.5" fill="#e04848"/>
<text x="47.7" y="221.30" font-size="5.7" font-family="Liberation Sans, sans-serif" fill="#1e1e1e">Yes</text>
<text x="78" y="197.4" font-size="5.8" font-family="Liberation Sans, sans-serif" fill="#1e1e1e">Cytogenetic Complexity</text>
<rect x="77.65" y="201.50" width="4.7" height="4.5" fill="#e8d870"/>
<text x="83.7" y="205.70" font-size="5.7" font-family="Liberation Sans, sans-serif" fill="#1e1e1e">≤6</text>
<rect x="77.65" y="209.30" width="4.7" height="4.5" fill="#bfc0c5"/>
<text x="83.7" y="213.50" font-size="5.7" font-family="Liberation Sans, sans-serif" fill="#1e1e1e">Unknown</text>
<rect x="77.65" y="217.10" width="4.7" height="4.5" fill="#3a3a70"/>
<text x="83.7" y="221.30" font-size="5.7" font-family="Liberation Sans, sans-serif" fill="#1e1e1e">&gt;6</text>
<text x="142.5" y="197.4" font-size="5.8" font-family="Liberation Sans, sans-serif" fill="#1e1e1e">NPM mutation</text>
<rect x="142.15" y="201.50" width="4.7" height="4.5" fill="#1a7a70"/>
<text x="148.2" y="205.70" font-size="5.7" font-family="Liberation Sans, sans-serif" fill="#1e1e1e">No</text>
<rect x="142.15" y="209.30" width="4.7" height="4.5" fill="#1a2040"/>
<text x="148.2" y="213.50" font-size="5.7" font-family="Liberation Sans, sans-serif" fill="#1e1e1e">Yes</text>
<text x="185" y="197.4" font-size="5.8" font-family="Liberation Sans, sans-serif" fill="#1e1e1e">CEBPA mutation</text>
<rect x="184.65" y="201.50" width="4.7" height="4.5" fill="#7080c0"/>
<text x="190.7" y="205.70" font-size="5.7" font-family="Liberation Sans, sans-serif" fill="#1e1e1e">No</text>
<rect x="184.65" y="209.30" width="4.7" height="4.5" fill="#4a7a30"/>
<text x="190.7" y="213.50" font-size="5.7" font-family="Liberation Sans, sans-serif" fill="#1e1e1e">Yes</text>
<text x="234.3" y="197.4" font-size="5.8" font-family="Liberation Sans, sans-serif" fill="#1e1e1e">MRD at end of course 1</text>
<rect x="233.95000000000002" y="201.50" width="4.7" height="4.5" fill="#5a3a90"/>
<text x="240.0" y="205.70" font-size="5.7" font-family="Liberation Sans, sans-serif" fill="#1e1e1e">No</text>
<rect x="233.95000000000002" y="209.30" width="4.7" height="4.5" fill="#bfc0c5"/>
<text x="240.0" y="213.50" font-size="5.7" font-family="Liberation Sans, sans-serif" fill="#1e1e1e">Unknown</text>
<rect x="233.95000000000002" y="217.10" width="4.7" height="4.5" fill="#a05890"/>
<text x="240.0" y="221.30" font-size="5.7" font-family="Liberation Sans, sans-serif" fill="#1e1e1e">Yes</text>
<text x="302" y="197.4" font-size="5.8" font-family="Liberation Sans, sans-serif" fill="#1e1e1e">MRD at end of course 2</text>
<rect x="301.65" y="201.50" width="4.7" height="4.5" fill="#904a90"/>
<text x="307.7" y="205.70" font-size="5.7" font-family="Liberation Sans, sans-serif" fill="#1e1e1e">No</text>
<rect x="301.65" y="209.30" width="4.7" height="4.5" fill="#bfc0c5"/>
<text x="307.7" y="213.50" font-size="5.7" font-family="Liberation Sans, sans-serif" fill="#1e1e1e">Unknown</text>
<rect x="301.65" y="217.10" width="4.7" height="4.5" fill="#e0e070"/>
<text x="307.7" y="221.30" font-size="5.7" font-family="Liberation Sans, sans-serif" fill="#1e1e1e">Yes</text>
<text x="369.5" y="197.4" font-size="5.8" font-family="Liberation Sans, sans-serif" fill="#1e1e1e">HSCT</text>
<rect x="369.15" y="201.50" width="4.7" height="4.5" fill="#2a2a70"/>
<text x="375.2" y="205.70" font-size="5.7" font-family="Liberation Sans, sans-serif" fill="#1e1e1e">No</text>
<rect x="369.15" y="209.30" width="4.7" height="4.5" fill="#bfc0c5"/>
<text x="375.2" y="213.50" font-size="5.7" font-family="Liberation Sans, sans-serif" fill="#1e1e1e">Unknown</text>
<rect x="369.15" y="217.10" width="4.7" height="4.5" fill="#6a6ab0"/>
<text x="375.2" y="221.30" font-size="5.7" font-family="Liberation Sans, sans-serif" fill="#1e1e1e">Yes</text>
<text x="34.6" y="240" font-size="10.6" font-weight="bold" font-family="Liberation Sans, sans-serif" fill="#000">B</text>
<line x1="67.0" y1="379.20" x2="69.5" y2="379.20" stroke="#1a1a1a" stroke-width="0.8"/>
<text x="63.6" y="381.35" font-size="6.0" text-anchor="end" font-family="Liberation Sans, sans-serif" fill="#1e1e1e">0</text>
<line x1="67.0" y1="340.30" x2="69.5" y2="340.30" stroke="#1a1a1a" stroke-width="0.8"/>
<text x="63.6" y="342.45" font-size="6.0" text-anchor="end" font-family="Liberation Sans, sans-serif" fill="#1e1e1e">10</text>
<line x1="67.0" y1="301.40" x2="69.5" y2="301.40" stroke="#1a1a1a" stroke-width="0.8"/>
<text x="63.6" y="303.55" font-size="6.0" text-anchor="end" font-family="Liberation Sans, sans-serif" fill="#1e1e1e">20</text>
<line x1="67.0" y1="262.50" x2="69.5" y2="262.50" stroke="#1a1a1a" stroke-width="0.8"/>
<text x="63.6" y="264.65" font-size="6.0" text-anchor="end" font-family="Liberation Sans, sans-serif" fill="#1e1e1e">30</text>
<line x1="68.2" y1="371.42" x2="69.5" y2="371.42" stroke="#1a1a1a" stroke-width="0.6"/>
<line x1="68.2" y1="363.64" x2="69.5" y2="363.64" stroke="#1a1a1a" stroke-width="0.6"/>
<line x1="68.2" y1="355.86" x2="69.5" y2="355.86" stroke="#1a1a1a" stroke-width="0.6"/>
<line x1="68.2" y1="348.08" x2="69.5" y2="348.08" stroke="#1a1a1a" stroke-width="0.6"/>
<line x1="68.2" y1="332.52" x2="69.5" y2="332.52" stroke="#1a1a1a" stroke-width="0.6"/>
<line x1="68.2" y1="324.74" x2="69.5" y2="324.74" stroke="#1a1a1a" stroke-width="0.6"/>
<line x1="68.2" y1="316.96" x2="69.5" y2="316.96" stroke="#1a1a1a" stroke-width="0.6"/>
<line x1="68.2" y1="309.18" x2="69.5" y2="309.18" stroke="#1a1a1a" stroke-width="0.6"/>
<line x1="68.2" y1="293.62" x2="69.5" y2="293.62" stroke="#1a1a1a" stroke-width="0.6"/>
<line x1="68.2" y1="285.84" x2="69.5" y2="285.84" stroke="#1a1a1a" stroke-width="0.6"/>
<line x1="68.2" y1="278.06" x2="69.5" y2="278.06" stroke="#1a1a1a" stroke-width="0.6"/>
<line x1="68.2" y1="270.28" x2="69.5" y2="270.28" stroke="#1a1a1a" stroke-width="0.6"/>
<text transform="translate(52.8,321) rotate(-90)" x="0" y="0" font-size="5.85" text-anchor="middle" font-family="Liberation Sans, sans-serif" fill="#1e1e1e">Age (years)</text>
<line x1="89.8" y1="307.62" x2="89.8" y2="324.74" stroke="#f4c640" stroke-width="0.7"/>
<line x1="89.8" y1="372.00" x2="89.8" y2="376.24" stroke="#f4c640" stroke-width="0.7"/>
<line x1="84.6" y1="307.62" x2="95.0" y2="307.62" stroke="#f7d889" stroke-width="0.7"/>
<line x1="84.6" y1="376.24" x2="95.0" y2="376.24" stroke="#f7d889" stroke-width="0.7"/>
<rect x="80.05" y="324.74" width="19.5" height="47.26" fill="#fbdf91"/>
<line x1="80.05" y1="353.72" x2="99.55" y2="353.72" stroke="#f0bc2c" stroke-width="1.0"/>
<ellipse cx="89.80" cy="285.84" rx="1.1" ry="1.15" fill="#ebb322"/>
<ellipse cx="89.80" cy="287.01" rx="1.1" ry="1.15" fill="#ebb322"/>
<ellipse cx="89.80" cy="290.51" rx="1.1" ry="1.15" fill="#ebb322"/>
<ellipse cx="89.80" cy="295.56" rx="1.1" ry="1.15" fill="#ebb322"/>
<ellipse cx="89.80" cy="296.34" rx="1.1" ry="1.15" fill="#ebb322"/>
<ellipse cx="89.80" cy="302.18" rx="1.1" ry="1.15" fill="#ebb322"/>
<ellipse cx="89.80" cy="303.34" rx="1.1" ry="1.15" fill="#ebb322"/>
<ellipse cx="89.80" cy="306.07" rx="1.1" ry="1.15" fill="#ebb322"/>
<ellipse cx="89.80" cy="378.23" rx="1.1" ry="1.15" fill="#ebb322"/>
<line x1="89.8" y1="379.20" x2="89.8" y2="381.60" stroke="#1a1a1a" stroke-width="0.7"/>
<text x="89.8" y="390.3" font-size="5.7" text-anchor="middle" font-family="Liberation Sans, sans-serif" fill="#1e1e1e">High</text>
<line x1="126.4" y1="301.79" x2="126.4" y2="317.89" stroke="#5872a2" stroke-width="0.7"/>
<line x1="126.4" y1="358.00" x2="126.4" y2="376.59" stroke="#5872a2" stroke-width="0.7"/>
<line x1="121.2" y1="301.79" x2="131.6" y2="301.79" stroke="#8b9cc2" stroke-width="0.7"/>
<line x1="121.2" y1="376.59" x2="131.6" y2="376.59" stroke="#8b9cc2" stroke-width="0.7"/>
<rect x="116.65" y="317.89" width="19.5" height="40.11" fill="#8e98bd"/>
<line x1="116.65" y1="332.52" x2="136.15" y2="332.52" stroke="#1f447f" stroke-width="1.0"/>
<ellipse cx="126.40" cy="264.06" rx="1.1" ry="1.15" fill="#19407c"/>
<ellipse cx="126.40" cy="265.42" rx="1.1" ry="1.15" fill="#19407c"/>
<ellipse cx="126.40" cy="268.72" rx="1.1" ry="1.15" fill="#19407c"/>
<ellipse cx="126.40" cy="275.34" rx="1.1" ry="1.15" fill="#19407c"/>
<ellipse cx="126.45" cy="281.95" rx="1.1" ry="1.15" fill="#19407c"/>
<ellipse cx="126.50" cy="283.70" rx="1.1" ry="1.15" fill="#19407c"/>
<ellipse cx="126.52" cy="285.45" rx="1.1" ry="1.15" fill="#19407c"/>
<ellipse cx="126.58" cy="287.20" rx="1.1" ry="1.15" fill="#19407c"/>
<ellipse cx="126.50" cy="288.95" rx="1.1" ry="1.15" fill="#19407c"/>
<ellipse cx="126.57" cy="290.70" rx="1.1" ry="1.15" fill="#19407c"/>
<ellipse cx="126.21" cy="292.45" rx="1.1" ry="1.15" fill="#19407c"/>
<ellipse cx="126.39" cy="294.20" rx="1.1" ry="1.15" fill="#19407c"/>
<ellipse cx="126.58" cy="295.95" rx="1.1" ry="1.15" fill="#19407c"/>
<ellipse cx="126.46" cy="297.70" rx="1.1" ry="1.15" fill="#19407c"/>
<ellipse cx="126.56" cy="299.45" rx="1.1" ry="1.15" fill="#19407c"/>
<ellipse cx="126.40" cy="378.03" rx="1.1" ry="1.15" fill="#19407c"/>
<line x1="126.4" y1="379.20" x2="126.4" y2="381.60" stroke="#1a1a1a" stroke-width="0.7"/>
<text x="126.4" y="390.3" font-size="5.7" text-anchor="middle" font-family="Liberation Sans, sans-serif" fill="#1e1e1e">Low</text>
<line x1="69.5" y1="260.50" x2="69.5" y2="379.5" stroke="#1a1a1a" stroke-width="1.1"/>
<line x1="69.0" y1="379.5" x2="146.5" y2="379.5" stroke="#1a1a1a" stroke-width="1.1"/>
<polyline points="89.3,255.20000000000002 89.3,250.4 126.7,250.4 126.7,255.20000000000002" fill="none" stroke="#3a3a3a" stroke-width="0.9"/>
<circle cx="104.60" cy="247.2" r="0.85" fill="#333"/>
<circle cx="106.75" cy="247.2" r="0.85" fill="#333"/>
<circle cx="108.90" cy="247.2" r="0.85" fill="#333"/>
<circle cx="111.05" cy="247.2" r="0.85" fill="#333"/>
<text x="190.2" y="240" font-size="10.6" font-weight="bold" font-family="Liberation Sans, sans-serif" fill="#000">C</text>
<line x1="225.1" y1="379.50" x2="227.6" y2="379.50" stroke="#1a1a1a" stroke-width="0.8"/>
<text x="221.7" y="381.65" font-size="6.0" text-anchor="end" font-family="Liberation Sans, sans-serif" fill="#1e1e1e">0</text>
<line x1="225.1" y1="350.20" x2="227.6" y2="350.20" stroke="#1a1a1a" stroke-width="0.8"/>
<text x="221.7" y="352.35" font-size="6.0" text-anchor="end" font-family="Liberation Sans, sans-serif" fill="#1e1e1e">100</text>
<line x1="225.1" y1="320.90" x2="227.6" y2="320.90" stroke="#1a1a1a" stroke-width="0.8"/>
<text x="221.7" y="323.05" font-size="6.0" text-anchor="end" font-family="Liberation Sans, sans-serif" fill="#1e1e1e">200</text>
<line x1="225.1" y1="291.60" x2="227.6" y2="291.60" stroke="#1a1a1a" stroke-width="0.8"/>
<text x="221.7" y="293.75" font-size="6.0" text-anchor="end" font-family="Liberation Sans, sans-serif" fill="#1e1e1e">300</text>
<line x1="225.1" y1="262.30" x2="227.6" y2="262.30" stroke="#1a1a1a" stroke-width="0.8"/>
<text x="221.7" y="264.45" font-size="6.0" text-anchor="end" font-family="Liberation Sans, sans-serif" fill="#1e1e1e">400</text>
<line x1="226.29999999999998" y1="364.85" x2="227.6" y2="364.85" stroke="#1a1a1a" stroke-width="0.6"/>
<line x1="226.29999999999998" y1="335.55" x2="227.6" y2="335.55" stroke="#1a1a1a" stroke-width="0.6"/>
<line x1="226.29999999999998" y1="306.25" x2="227.6" y2="306.25" stroke="#1a1a1a" stroke-width="0.6"/>
<line x1="226.29999999999998" y1="276.95" x2="227.6" y2="276.95" stroke="#1a1a1a" stroke-width="0.6"/>
<text transform="translate(206.4,319.2) rotate(-90)" x="0" y="0" font-size="5.85" text-anchor="middle" font-family="Liberation Sans, sans-serif" fill="#1e1e1e">WBC at diagnosis</text>
<line x1="248.0" y1="314.01" x2="248.0" y2="349.20" stroke="#f4c640" stroke-width="0.7"/>
<line x1="248.0" y1="376.39" x2="248.0" y2="379.21" stroke="#f4c640" stroke-width="0.7"/>
<line x1="242.8" y1="314.01" x2="253.2" y2="314.01" stroke="#f7d889" stroke-width="0.7"/>
<line x1="242.8" y1="379.21" x2="253.2" y2="379.21" stroke="#f7d889" stroke-width="0.7"/>
<rect x="238.25" y="349.20" width="19.5" height="27.19" fill="#fbdf91"/>
<line x1="238.25" y1="370.71" x2="257.75" y2="370.71" stroke="#f0bc2c" stroke-width="1.0"/>
<ellipse cx="248.00" cy="264.50" rx="1.1" ry="1.15" fill="#ebb322"/>
<ellipse cx="248.00" cy="275.19" rx="1.1" ry="1.15" fill="#ebb322"/>
<ellipse cx="248.00" cy="278.42" rx="1.1" ry="1.15" fill="#ebb322"/>
<ellipse cx="248.00" cy="284.86" rx="1.1" ry="1.15" fill="#ebb322"/>
<ellipse cx="248.00" cy="288.67" rx="1.1" ry="1.15" fill="#ebb322"/>
<ellipse cx="248.00" cy="296.29" rx="1.1" ry="1.15" fill="#ebb322"/>
<ellipse cx="248.00" cy="297.75" rx="1.1" ry="1.15" fill="#ebb322"/>
<ellipse cx="248.00" cy="302.15" rx="1.1" ry="1.15" fill="#ebb322"/>
<ellipse cx="247.85" cy="303.61" rx="1.1" ry="1.15" fill="#ebb322"/>
<ellipse cx="247.99" cy="304.55" rx="1.1" ry="1.15" fill="#ebb322"/>
<ellipse cx="247.90" cy="305.49" rx="1.1" ry="1.15" fill="#ebb322"/>
<ellipse cx="248.02" cy="306.43" rx="1.1" ry="1.15" fill="#ebb322"/>
<ellipse cx="248.03" cy="307.36" rx="1.1" ry="1.15" fill="#ebb322"/>
<ellipse cx="247.81" cy="308.30" rx="1.1" ry="1.15" fill="#ebb322"/>
<ellipse cx="247.89" cy="309.24" rx="1.1" ry="1.15" fill="#ebb322"/>
<ellipse cx="247.91" cy="310.18" rx="1.1" ry="1.15" fill="#ebb322"/>
<ellipse cx="248.17" cy="311.11" rx="1.1" ry="1.15" fill="#ebb322"/>
<ellipse cx="248.11" cy="312.05" rx="1.1" ry="1.15" fill="#ebb322"/>
<ellipse cx="248.00" cy="379.50" rx="1.1" ry="1.15" fill="#ebb322"/>
<line x1="248.0" y1="379.50" x2="248.0" y2="381.90" stroke="#1a1a1a" stroke-width="0.7"/>
<text x="248.0" y="390.3" font-size="5.7" text-anchor="middle" font-family="Liberation Sans, sans-serif" fill="#1e1e1e">High</text>
<line x1="284.8" y1="341.00" x2="284.8" y2="363.38" stroke="#5872a2" stroke-width="0.7"/>
<line x1="284.8" y1="377.51" x2="284.8" y2="379.50" stroke="#5872a2" stroke-width="0.7"/>
<line x1="279.6" y1="341.00" x2="290.0" y2="341.00" stroke="#8b9cc2" stroke-width="0.7"/>
<line x1="279.6" y1="379.50" x2="290.0" y2="379.50" stroke="#8b9cc2" stroke-width="0.7"/>
<rect x="275.05" y="363.38" width="19.5" height="14.12" fill="#8e98bd"/>
<line x1="275.05" y1="373.70" x2="294.55" y2="373.70" stroke="#1f447f" stroke-width="1.0"/>
<ellipse cx="284.80" cy="272.56" rx="1.1" ry="1.15" fill="#19407c"/>
<ellipse cx="284.80" cy="282.52" rx="1.1" ry="1.15" fill="#19407c"/>
<ellipse cx="284.80" cy="286.62" rx="1.1" ry="1.15" fill="#19407c"/>
<ellipse cx="284.80" cy="290.43" rx="1.1" ry="1.15" fill="#19407c"/>
<ellipse cx="284.80" cy="293.94" rx="1.1" ry="1.15" fill="#19407c"/>
<ellipse cx="284.80" cy="297.31" rx="1.1" ry="1.15" fill="#19407c"/>
<ellipse cx="284.80" cy="301.86" rx="1.1" ry="1.15" fill="#19407c"/>
<ellipse cx="284.80" cy="305.08" rx="1.1" ry="1.15" fill="#19407c"/>
<ellipse cx="284.80" cy="308.59" rx="1.1" ry="1.15" fill="#19407c"/>
<ellipse cx="284.80" cy="310.94" rx="1.1" ry="1.15" fill="#19407c"/>
<ellipse cx="284.80" cy="314.31" rx="1.1" ry="1.15" fill="#19407c"/>
<ellipse cx="284.32" cy="317.68" rx="1.1" ry="1.15" fill="#19407c"/>
<ellipse cx="285.22" cy="318.44" rx="1.1" ry="1.15" fill="#19407c"/>
<ellipse cx="284.29" cy="319.20" rx="1.1" ry="1.15" fill="#19407c"/>
<ellipse cx="284.96" cy="319.96" rx="1.1" ry="1.15" fill="#19407c"/>
<ellipse cx="284.28" cy="320.72" rx="1.1" ry="1.15" fill="#19407c"/>
<ellipse cx="284.10" cy="321.49" rx="1.1" ry="1.15" fill="#19407c"/>
<ellipse cx="285.32" cy="322.25" rx="1.1" ry="1.15" fill="#19407c"/>
<ellipse cx="284.39" cy="323.01" rx="1.1" ry="1.15" fill="#19407c"/>
<ellipse cx="284.40" cy="323.77" rx="1.1" ry="1.15" fill="#19407c"/>
<ellipse cx="285.48" cy="324.53" rx="1.1" ry="1.15" fill="#19407c"/>
<ellipse cx="285.32" cy="325.29" rx="1.1" ry="1.15" fill="#19407c"/>
<ellipse cx="284.51" cy="326.06" rx="1.1" ry="1.15" fill="#19407c"/>
<ellipse cx="285.45" cy="326.82" rx="1.1" ry="1.15" fill="#19407c"/>
<ellipse cx="284.85" cy="327.58" rx="1.1" ry="1.15" fill="#19407c"/>
<ellipse cx="285.05" cy="328.34" rx="1.1" ry="1.15" fill="#19407c"/>
<ellipse cx="284.39" cy="329.10" rx="1.1" ry="1.15" fill="#19407c"/>
<ellipse cx="285.42" cy="329.87" rx="1.1" ry="1.15" fill="#19407c"/>
<ellipse cx="285.07" cy="330.63" rx="1.1" ry="1.15" fill="#19407c"/>
<ellipse cx="285.45" cy="331.39" rx="1.1" ry="1.15" fill="#19407c"/>
<ellipse cx="285.35" cy="332.15" rx="1.1" ry="1.15" fill="#19407c"/>
<ellipse cx="284.52" cy="332.91" rx="1.1" ry="1.15" fill="#19407c"/>
<ellipse cx="284.61" cy="333.67" rx="1.1" ry="1.15" fill="#19407c"/>
<ellipse cx="284.33" cy="334.44" rx="1.1" ry="1.15" fill="#19407c"/>
<ellipse cx="284.30" cy="335.20" rx="1.1" ry="1.15" fill="#19407c"/>
<ellipse cx="284.19" cy="335.96" rx="1.1" ry="1.15" fill="#19407c"/>
<ellipse cx="284.52" cy="336.72" rx="1.1" ry="1.15" fill="#19407c"/>
<ellipse cx="284.94" cy="337.48" rx="1.1" ry="1.15" fill="#19407c"/>
<ellipse cx="284.10" cy="338.25" rx="1.1" ry="1.15" fill="#19407c"/>
<ellipse cx="285.05" cy="339.01" rx="1.1" ry="1.15" fill="#19407c"/>
<ellipse cx="284.57" cy="339.77" rx="1.1" ry="1.15" fill="#19407c"/>
<ellipse cx="284.53" cy="340.53" rx="1.1" ry="1.15" fill="#19407c"/>
<line x1="284.8" y1="379.50" x2="284.8" y2="381.90" stroke="#1a1a1a" stroke-width="0.7"/>
<text x="284.8" y="390.3" font-size="5.7" text-anchor="middle" font-family="Liberation Sans, sans-serif" fill="#1e1e1e">Low</text>
<line x1="227.6" y1="260.30" x2="227.6" y2="379.5" stroke="#1a1a1a" stroke-width="1.1"/>
<line x1="227.1" y1="379.5" x2="305" y2="379.5" stroke="#1a1a1a" stroke-width="1.1"/>
<polyline points="247.8,257.9 247.8,253.0 284.8,253.0 284.8,257.9" fill="none" stroke="#3a3a3a" stroke-width="0.9"/>
<circle cx="265.40" cy="249.9" r="0.85" fill="#333"/>
<circle cx="267.55" cy="249.9" r="0.85" fill="#333"/>
<line x1="275.3" y1="377.5" x2="294.4" y2="377.5" stroke="#1f3f78" stroke-width="1.3" stroke-dasharray="1.3 0.9"/>
<text x="348.6" y="240" font-size="10.6" font-weight="bold" font-family="Liberation Sans, sans-serif" fill="#000">D</text>
<line x1="384.0" y1="379.10" x2="386.5" y2="379.10" stroke="#1a1a1a" stroke-width="0.8"/>
<text x="380.6" y="381.25" font-size="6.0" text-anchor="end" font-family="Liberation Sans, sans-serif" fill="#1e1e1e">0</text>
<line x1="384.0" y1="326.25" x2="386.5" y2="326.25" stroke="#1a1a1a" stroke-width="0.8"/>
<text x="380.6" y="328.40" font-size="6.0" text-anchor="end" font-family="Liberation Sans, sans-serif" fill="#1e1e1e">50</text>
<line x1="384.0" y1="273.40" x2="386.5" y2="273.40" stroke="#1a1a1a" stroke-width="0.8"/>
<text x="380.6" y="275.55" font-size="6.0" text-anchor="end" font-family="Liberation Sans, sans-serif" fill="#1e1e1e">100</text>
<line x1="385.2" y1="352.68" x2="386.5" y2="352.68" stroke="#1a1a1a" stroke-width="0.6"/>
<line x1="385.2" y1="299.83" x2="386.5" y2="299.83" stroke="#1a1a1a" stroke-width="0.6"/>
<text transform="translate(364.2,324.5) rotate(-90)" x="0" y="0" font-size="5.85" text-anchor="middle" font-family="Liberation Sans, sans-serif" fill="#1e1e1e">Bone marrow leukemic blast (%)</text>
<line x1="406.6" y1="278.79" x2="406.6" y2="285.45" stroke="#f4c640" stroke-width="0.7"/>
<line x1="406.6" y1="321.18" x2="406.6" y2="348.66" stroke="#f4c640" stroke-width="0.7"/>
<line x1="401.40000000000003" y1="278.79" x2="411.8" y2="278.79" stroke="#f7d889" stroke-width="0.7"/>
<line x1="401.40000000000003" y1="348.66" x2="411.8" y2="348.66" stroke="#f7d889" stroke-width="0.7"/>
<rect x="396.85" y="285.45" width="19.5" height="35.73" fill="#fbdf91"/>
<line x1="396.85" y1="294.75" x2="416.35" y2="294.75" stroke="#f0bc2c" stroke-width="1.0"/>
<ellipse cx="406.60" cy="277.10" rx="1.1" ry="1.15" fill="#ebb322"/>
<ellipse cx="406.60" cy="274.99" rx="1.1" ry="1.15" fill="#ebb322"/>
<ellipse cx="406.70" cy="349.19" rx="1.1" ry="1.15" fill="#ebb322"/>
<ellipse cx="406.59" cy="350.35" rx="1.1" ry="1.15" fill="#ebb322"/>
<ellipse cx="406.54" cy="351.51" rx="1.1" ry="1.15" fill="#ebb322"/>
<ellipse cx="406.59" cy="352.68" rx="1.1" ry="1.15" fill="#ebb322"/>
<ellipse cx="406.66" cy="353.84" rx="1.1" ry="1.15" fill="#ebb322"/>
<ellipse cx="406.47" cy="355.00" rx="1.1" ry="1.15" fill="#ebb322"/>
<ellipse cx="406.74" cy="356.16" rx="1.1" ry="1.15" fill="#ebb322"/>
<ellipse cx="406.46" cy="357.33" rx="1.1" ry="1.15" fill="#ebb322"/>
<ellipse cx="406.67" cy="358.49" rx="1.1" ry="1.15" fill="#ebb322"/>
<ellipse cx="406.70" cy="359.65" rx="1.1" ry="1.15" fill="#ebb322"/>
<ellipse cx="406.46" cy="360.81" rx="1.1" ry="1.15" fill="#ebb322"/>
<ellipse cx="406.60" cy="363.25" rx="1.1" ry="1.15" fill="#ebb322"/>
<ellipse cx="406.60" cy="366.73" rx="1.1" ry="1.15" fill="#ebb322"/>
<ellipse cx="406.60" cy="370.12" rx="1.1" ry="1.15" fill="#ebb322"/>
<ellipse cx="406.60" cy="374.34" rx="1.1" ry="1.15" fill="#ebb322"/>
<line x1="406.6" y1="379.10" x2="406.6" y2="381.50" stroke="#1a1a1a" stroke-width="0.7"/>
<text x="406.6" y="390.3" font-size="5.7" text-anchor="middle" font-family="Liberation Sans, sans-serif" fill="#1e1e1e">High</text>
<line x1="443.6" y1="283.65" x2="443.6" y2="294.75" stroke="#5872a2" stroke-width="0.7"/>
<line x1="443.6" y1="337.45" x2="443.6" y2="355.21" stroke="#5872a2" stroke-width="0.7"/>
<line x1="438.40000000000003" y1="283.65" x2="448.8" y2="283.65" stroke="#8b9cc2" stroke-width="0.7"/>
<line x1="438.40000000000003" y1="355.21" x2="448.8" y2="355.21" stroke="#8b9cc2" stroke-width="0.7"/>
<rect x="433.85" y="294.75" width="19.5" height="42.70" fill="#8e98bd"/>
<line x1="433.85" y1="313.99" x2="453.35" y2="313.99" stroke="#1f447f" stroke-width="1.0"/>
<ellipse cx="443.69" cy="272.87" rx="1.1" ry="1.15" fill="#19407c"/>
<ellipse cx="443.56" cy="273.82" rx="1.1" ry="1.15" fill="#19407c"/>
<ellipse cx="443.62" cy="274.77" rx="1.1" ry="1.15" fill="#19407c"/>
<ellipse cx="443.45" cy="275.73" rx="1.1" ry="1.15" fill="#19407c"/>
<ellipse cx="443.46" cy="276.68" rx="1.1" ry="1.15" fill="#19407c"/>
<ellipse cx="443.50" cy="277.63" rx="1.1" ry="1.15" fill="#19407c"/>
<ellipse cx="443.74" cy="278.58" rx="1.1" ry="1.15" fill="#19407c"/>
<ellipse cx="443.51" cy="279.53" rx="1.1" ry="1.15" fill="#19407c"/>
<ellipse cx="443.68" cy="280.48" rx="1.1" ry="1.15" fill="#19407c"/>
<ellipse cx="443.73" cy="281.43" rx="1.1" ry="1.15" fill="#19407c"/>
<ellipse cx="443.73" cy="282.38" rx="1.1" ry="1.15" fill="#19407c"/>
<ellipse cx="443.54" cy="355.85" rx="1.1" ry="1.15" fill="#19407c"/>
<ellipse cx="443.54" cy="356.80" rx="1.1" ry="1.15" fill="#19407c"/>
<ellipse cx="443.61" cy="357.75" rx="1.1" ry="1.15" fill="#19407c"/>
<ellipse cx="443.71" cy="358.70" rx="1.1" ry="1.15" fill="#19407c"/>
<ellipse cx="443.44" cy="359.65" rx="1.1" ry="1.15" fill="#19407c"/>
<ellipse cx="443.70" cy="360.60" rx="1.1" ry="1.15" fill="#19407c"/>
<ellipse cx="443.72" cy="361.55" rx="1.1" ry="1.15" fill="#19407c"/>
<ellipse cx="443.74" cy="362.51" rx="1.1" ry="1.15" fill="#19407c"/>
<ellipse cx="443.41" cy="363.46" rx="1.1" ry="1.15" fill="#19407c"/>
<ellipse cx="443.78" cy="364.41" rx="1.1" ry="1.15" fill="#19407c"/>
<ellipse cx="443.44" cy="365.36" rx="1.1" ry="1.15" fill="#19407c"/>
<ellipse cx="443.54" cy="366.31" rx="1.1" ry="1.15" fill="#19407c"/>
<ellipse cx="443.64" cy="369.59" rx="1.1" ry="1.15" fill="#19407c"/>
<ellipse cx="443.77" cy="370.54" rx="1.1" ry="1.15" fill="#19407c"/>
<ellipse cx="443.54" cy="371.49" rx="1.1" ry="1.15" fill="#19407c"/>
<ellipse cx="443.77" cy="372.44" rx="1.1" ry="1.15" fill="#19407c"/>
<ellipse cx="443.62" cy="373.39" rx="1.1" ry="1.15" fill="#19407c"/>
<ellipse cx="443.52" cy="374.34" rx="1.1" ry="1.15" fill="#19407c"/>
<ellipse cx="443.53" cy="375.29" rx="1.1" ry="1.15" fill="#19407c"/>
<ellipse cx="443.47" cy="376.25" rx="1.1" ry="1.15" fill="#19407c"/>
<ellipse cx="443.43" cy="377.20" rx="1.1" ry="1.15" fill="#19407c"/>
<ellipse cx="443.46" cy="378.15" rx="1.1" ry="1.15" fill="#19407c"/>
<line x1="443.6" y1="379.10" x2="443.6" y2="381.50" stroke="#1a1a1a" stroke-width="0.7"/>
<text x="443.6" y="390.3" font-size="5.7" text-anchor="middle" font-family="Liberation Sans, sans-serif" fill="#1e1e1e">Low</text>
<line x1="386.5" y1="271.40" x2="386.5" y2="379.5" stroke="#1a1a1a" stroke-width="1.1"/>
<line x1="386.0" y1="379.5" x2="463.6" y2="379.5" stroke="#1a1a1a" stroke-width="1.1"/>
<polyline points="406.3,264.7 406.3,259.7 443.6,259.7 443.6,264.7" fill="none" stroke="#3a3a3a" stroke-width="0.9"/>
<circle cx="421.80" cy="256.9" r="0.85" fill="#333"/>
<circle cx="423.95" cy="256.9" r="0.85" fill="#333"/>
<circle cx="426.10" cy="256.9" r="0.85" fill="#333"/>
<circle cx="428.25" cy="256.9" r="0.85" fill="#333"/>
<rect x="0.5" y="0.5" width="519" height="397" fill="none" stroke="#6a6a6a" stroke-width="1"/>
</g>
</svg>
</body></html>
